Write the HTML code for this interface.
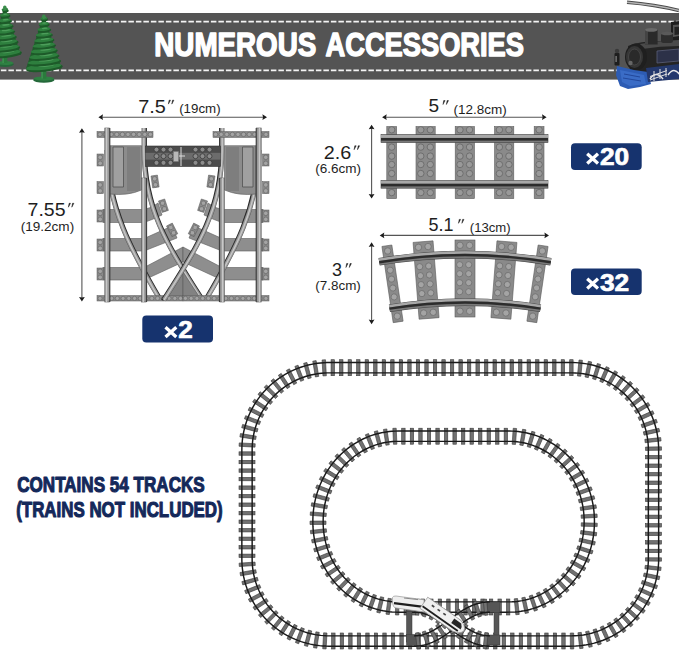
<!DOCTYPE html>
<html><head><meta charset="utf-8"><style>
html,body{margin:0;padding:0;background:#fff;width:679px;height:652px;overflow:hidden;font-family:"Liberation Sans",sans-serif;}
svg{display:block}
</style></head><body>
<svg width="679" height="652" viewBox="0 0 679 652" font-family="Liberation Sans, sans-serif"><rect width="679" height="652" fill="#fff"/>
<rect x="0" y="13" width="679" height="66.6" fill="#545454"/>
<line x1="0" y1="21.6" x2="679" y2="21.6" stroke="#f4f4f4" stroke-width="1.8" stroke-dasharray="5.5 2" stroke-dashoffset="-0.9"/>
<line x1="0" y1="70.3" x2="679" y2="70.3" stroke="#f4f4f4" stroke-width="1.8" stroke-dasharray="5.5 2" stroke-dashoffset="-0.9"/>
<text x="154.3" y="56.2" font-size="32.5" font-weight="bold" fill="#fff" text-anchor="start" textLength="162" lengthAdjust="spacingAndGlyphs" stroke="#fff" stroke-width="1.5" stroke-linejoin="round">NUMEROUS</text>
<text x="325.5" y="56.2" font-size="32.5" font-weight="bold" fill="#fff" text-anchor="start" textLength="198.5" lengthAdjust="spacingAndGlyphs" stroke="#fff" stroke-width="1.5" stroke-linejoin="round">ACCESSORIES</text>
<ellipse cx="4.8" cy="64.3" rx="9" ry="2.6" fill="#24683a"/><ellipse cx="4.8" cy="63" rx="8.549999999999999" ry="1.9500000000000002" fill="#2f8043"/><rect x="2.3" y="52" width="5" height="11" fill="#2a7a3c"/><rect x="2.3" y="52" width="1.6" height="11" fill="#3d9150"/><path d="M4.8,6 L20.805,55 L-11.204999999999998,55z" fill="#1f5e2b"/><ellipse cx="5.3" cy="54.4" rx="16.5" ry="3.6" fill="#1d5a29" transform="rotate(-6,4.8,53.0)"/><ellipse cx="4.8" cy="53.0" rx="15.8" ry="2.9" fill="#2e7f3e" transform="rotate(-6,4.8,53.0)"/><ellipse cx="7.3" cy="51.9" rx="7.4" ry="1.3" fill="#4c9d5a" transform="rotate(-6,4.8,53.0)"/><ellipse cx="5.3" cy="49.0" rx="14.8" ry="3.4" fill="#1d5a29" transform="rotate(-6,4.8,47.55555555555555)"/><ellipse cx="4.8" cy="47.6" rx="14.3" ry="2.7" fill="#2e7f3e" transform="rotate(-6,4.8,47.55555555555555)"/><ellipse cx="7.0" cy="46.5" rx="6.7" ry="1.2" fill="#4c9d5a" transform="rotate(-6,4.8,47.55555555555555)"/><ellipse cx="5.3" cy="43.5" rx="13.2" ry="3.2" fill="#1d5a29" transform="rotate(-6,4.8,42.111111111111114)"/><ellipse cx="4.8" cy="42.1" rx="12.7" ry="2.5" fill="#2e7f3e" transform="rotate(-6,4.8,42.111111111111114)"/><ellipse cx="6.8" cy="41.2" rx="5.9" ry="1.1" fill="#4c9d5a" transform="rotate(-6,4.8,42.111111111111114)"/><ellipse cx="5.3" cy="38.1" rx="11.5" ry="2.9" fill="#1d5a29" transform="rotate(-6,4.8,36.666666666666664)"/><ellipse cx="4.8" cy="36.7" rx="11.1" ry="2.3" fill="#2e7f3e" transform="rotate(-6,4.8,36.666666666666664)"/><ellipse cx="6.5" cy="35.8" rx="5.2" ry="1.0" fill="#4c9d5a" transform="rotate(-6,4.8,36.666666666666664)"/><ellipse cx="5.3" cy="32.6" rx="9.9" ry="2.7" fill="#1d5a29" transform="rotate(-6,4.8,31.22222222222223)"/><ellipse cx="4.8" cy="31.2" rx="9.5" ry="2.2" fill="#2e7f3e" transform="rotate(-6,4.8,31.22222222222223)"/><ellipse cx="6.3" cy="30.4" rx="4.5" ry="0.9" fill="#4c9d5a" transform="rotate(-6,4.8,31.22222222222223)"/><ellipse cx="5.3" cy="27.2" rx="8.2" ry="2.5" fill="#1d5a29" transform="rotate(-6,4.8,25.777777777777775)"/><ellipse cx="4.8" cy="25.8" rx="7.9" ry="2.0" fill="#2e7f3e" transform="rotate(-6,4.8,25.777777777777775)"/><ellipse cx="6.0" cy="25.0" rx="3.7" ry="0.9" fill="#4c9d5a" transform="rotate(-6,4.8,25.777777777777775)"/><ellipse cx="5.3" cy="21.7" rx="6.6" ry="2.3" fill="#1d5a29" transform="rotate(-6,4.8,20.333333333333332)"/><ellipse cx="4.8" cy="20.3" rx="6.3" ry="1.8" fill="#2e7f3e" transform="rotate(-6,4.8,20.333333333333332)"/><ellipse cx="5.8" cy="19.7" rx="3.0" ry="0.8" fill="#4c9d5a" transform="rotate(-6,4.8,20.333333333333332)"/><ellipse cx="5.3" cy="16.3" rx="5.0" ry="2.0" fill="#1d5a29" transform="rotate(-6,4.8,14.888888888888886)"/><ellipse cx="4.8" cy="14.9" rx="4.8" ry="1.6" fill="#2e7f3e" transform="rotate(-6,4.8,14.888888888888886)"/><ellipse cx="5.5" cy="14.3" rx="2.2" ry="0.7" fill="#4c9d5a" transform="rotate(-6,4.8,14.888888888888886)"/><ellipse cx="5.3" cy="10.8" rx="3.3" ry="1.8" fill="#1d5a29" transform="rotate(-6,4.8,9.444444444444443)"/><ellipse cx="4.8" cy="9.4" rx="3.2" ry="1.5" fill="#2e7f3e" transform="rotate(-6,4.8,9.444444444444443)"/><ellipse cx="5.3" cy="8.9" rx="1.5" ry="0.6" fill="#4c9d5a" transform="rotate(-6,4.8,9.444444444444443)"/><ellipse cx="4.8" cy="7.5" rx="1.8" ry="2" fill="#3a8c4a"/>
<ellipse cx="43.8" cy="80.0" rx="10.7" ry="2.8" fill="#24683a"/><ellipse cx="43.8" cy="78.6" rx="10.165" ry="2.0999999999999996" fill="#2f8043"/><rect x="41.3" y="65.8" width="5" height="12.8" fill="#2a7a3c"/><rect x="41.3" y="65.8" width="1.6" height="12.8" fill="#3d9150"/><path d="M43.8,14.9 L61.647999999999996,68.8 L25.951999999999998,68.8z" fill="#1f5e2b"/><ellipse cx="44.3" cy="68.2" rx="18.4" ry="3.6" fill="#1d5a29" transform="rotate(-6,43.8,66.8)"/><ellipse cx="43.8" cy="66.8" rx="17.7" ry="2.9" fill="#2e7f3e" transform="rotate(-6,43.8,66.8)"/><ellipse cx="46.6" cy="65.7" rx="8.3" ry="1.3" fill="#4c9d5a" transform="rotate(-6,43.8,66.8)"/><ellipse cx="44.3" cy="62.8" rx="16.7" ry="3.4" fill="#1d5a29" transform="rotate(-6,43.8,61.41)"/><ellipse cx="43.8" cy="61.4" rx="16.1" ry="2.7" fill="#2e7f3e" transform="rotate(-6,43.8,61.41)"/><ellipse cx="46.3" cy="60.4" rx="7.5" ry="1.2" fill="#4c9d5a" transform="rotate(-6,43.8,61.41)"/><ellipse cx="44.3" cy="57.4" rx="15.1" ry="3.2" fill="#1d5a29" transform="rotate(-6,43.8,56.02)"/><ellipse cx="43.8" cy="56.0" rx="14.5" ry="2.6" fill="#2e7f3e" transform="rotate(-6,43.8,56.02)"/><ellipse cx="46.1" cy="55.1" rx="6.8" ry="1.1" fill="#4c9d5a" transform="rotate(-6,43.8,56.02)"/><ellipse cx="44.3" cy="52.0" rx="13.4" ry="3.0" fill="#1d5a29" transform="rotate(-6,43.8,50.629999999999995)"/><ellipse cx="43.8" cy="50.6" rx="12.9" ry="2.4" fill="#2e7f3e" transform="rotate(-6,43.8,50.629999999999995)"/><ellipse cx="45.8" cy="49.7" rx="6.0" ry="1.0" fill="#4c9d5a" transform="rotate(-6,43.8,50.629999999999995)"/><ellipse cx="44.3" cy="46.6" rx="11.8" ry="2.8" fill="#1d5a29" transform="rotate(-6,43.8,45.239999999999995)"/><ellipse cx="43.8" cy="45.2" rx="11.3" ry="2.2" fill="#2e7f3e" transform="rotate(-6,43.8,45.239999999999995)"/><ellipse cx="45.6" cy="44.4" rx="5.3" ry="1.0" fill="#4c9d5a" transform="rotate(-6,43.8,45.239999999999995)"/><ellipse cx="44.3" cy="41.2" rx="10.1" ry="2.6" fill="#1d5a29" transform="rotate(-6,43.8,39.85)"/><ellipse cx="43.8" cy="39.9" rx="9.7" ry="2.1" fill="#2e7f3e" transform="rotate(-6,43.8,39.85)"/><ellipse cx="45.3" cy="39.1" rx="4.6" ry="0.9" fill="#4c9d5a" transform="rotate(-6,43.8,39.85)"/><ellipse cx="44.3" cy="35.9" rx="8.5" ry="2.4" fill="#1d5a29" transform="rotate(-6,43.8,34.46)"/><ellipse cx="43.8" cy="34.5" rx="8.1" ry="1.9" fill="#2e7f3e" transform="rotate(-6,43.8,34.46)"/><ellipse cx="45.1" cy="33.7" rx="3.8" ry="0.8" fill="#4c9d5a" transform="rotate(-6,43.8,34.46)"/><ellipse cx="44.3" cy="30.5" rx="6.8" ry="2.2" fill="#1d5a29" transform="rotate(-6,43.8,29.07)"/><ellipse cx="43.8" cy="29.1" rx="6.5" ry="1.8" fill="#2e7f3e" transform="rotate(-6,43.8,29.07)"/><ellipse cx="44.8" cy="28.4" rx="3.1" ry="0.8" fill="#4c9d5a" transform="rotate(-6,43.8,29.07)"/><ellipse cx="44.3" cy="25.1" rx="5.2" ry="2.0" fill="#1d5a29" transform="rotate(-6,43.8,23.68)"/><ellipse cx="43.8" cy="23.7" rx="4.9" ry="1.6" fill="#2e7f3e" transform="rotate(-6,43.8,23.68)"/><ellipse cx="44.6" cy="23.1" rx="2.3" ry="0.7" fill="#4c9d5a" transform="rotate(-6,43.8,23.68)"/><ellipse cx="44.3" cy="19.7" rx="3.5" ry="1.8" fill="#1d5a29" transform="rotate(-6,43.8,18.29)"/><ellipse cx="43.8" cy="18.3" rx="3.4" ry="1.4" fill="#2e7f3e" transform="rotate(-6,43.8,18.29)"/><ellipse cx="44.3" cy="17.8" rx="1.6" ry="0.6" fill="#4c9d5a" transform="rotate(-6,43.8,18.29)"/><ellipse cx="43.8" cy="16.4" rx="1.8" ry="2" fill="#3a8c4a"/>
<path d="M627,2.2 Q655,4.5 679,10.5" fill="none" stroke="#4a4a4a" stroke-width="3.4"/><path d="M627,2.2 Q655,4.5 679,10.5" fill="none" stroke="#b4b4b4" stroke-width="1.6"/><path d="M671,22 L679,21 L679,62 L671,62z" fill="#1e1e1e"/><path d="M673,25 L679,24.5 L679,36 L673,37z" fill="#555"/><path d="M674.5,27 L679,26.7 L679,34.5 L674.5,35z" fill="#222"/><path d="M628,46 Q640,41 660,41 L679,40 L679,70 L650,76 L630,72z" fill="#242424"/><path d="M640,44 Q655,41 679,40 L679,46 Q660,46 642,49z" fill="#4a4a4a"/><path d="M657,51 L679,49 L679,61 L657,63z" fill="#2c3148" stroke="#5a6078" stroke-width="0.8"/><rect x="661" y="33" width="12" height="10" rx="2.5" fill="#2e2e2e"/><ellipse cx="667" cy="33.5" rx="6" ry="1.8" fill="#5a5a5a"/><rect x="645" y="29.5" width="12.6" height="15" fill="#2a2a2a"/><rect x="645" y="29.5" width="3" height="15" fill="#444"/><ellipse cx="651.3" cy="29.8" rx="6.3" ry="1.9" fill="#6a6a6a"/><ellipse cx="636" cy="57" rx="11" ry="13.5" fill="#1f1f1f"/><ellipse cx="634.5" cy="57" rx="8.5" ry="11" fill="#363636"/><ellipse cx="634.5" cy="57" rx="6" ry="8" fill="#2a2a2a" stroke="#4a4a4a" stroke-width="0.8"/><circle cx="630.5" cy="63" r="2.2" fill="#666"/><path d="M617,66 L634,70 L648,72 L651,84 L640,87 L628,89 L620,86 L616,75z" fill="#2d5cb4"/><path d="M620,70 L644,75 L646,84 L630,86 L622,82z" fill="#3a6cc6"/><path d="M624,74 L640,77 M623,78 L641,81" stroke="#22479a" stroke-width="1"/><path d="M646,68 L679,64 L679,79 L648,82z" fill="#24386c"/><path d="M650,79 q6,-9 13,0" fill="none" stroke="#e8e8e8" stroke-width="1.5"/><path d="M668,75 q6,-9 12,0" fill="none" stroke="#e8e8e8" stroke-width="1.5"/><path d="M650,80 L667,74 M650,76.5 L667,70.5 M654,81 V71 M660,79 V69 M666,77 V68" stroke="#e0e0e0" stroke-width="1" fill="none"/><rect x="614.5" y="53" width="5" height="12.5" rx="1" fill="#1e1e1e"/><circle cx="617" cy="51" r="2.2" fill="#3a3a3a"/><rect x="615.5" y="56" width="1.2" height="6" fill="#888"/>
<line x1="101.4" y1="117.2" x2="264" y2="117.2" stroke="#555" stroke-width="1.1"/>
<path d="M98.4,117.2 l4.6,-2.9 l-0.6,2.9 l0.6,2.9z M267,117.2 l-4.6,-2.9 l0.6,2.9 l-0.6,2.9z" fill="#1c1c1c"/>
<line x1="81.9" y1="131.2" x2="81.9" y2="298.5" stroke="#555" stroke-width="1.1"/>
<path d="M81.9,128.2 l-2.9,4.6 l2.9,-0.6 l2.9,0.6z M81.9,301.5 l-2.9,-4.6 l2.9,0.6 l2.9,-0.6z" fill="#1c1c1c"/>
<line x1="385.1" y1="117.2" x2="543.6" y2="117.2" stroke="#555" stroke-width="1.1"/>
<path d="M382.1,117.2 l4.6,-2.9 l-0.6,2.9 l0.6,2.9z M546.6,117.2 l-4.6,-2.9 l0.6,2.9 l-0.6,2.9z" fill="#1c1c1c"/>
<line x1="371.6" y1="127.7" x2="371.6" y2="195.5" stroke="#555" stroke-width="1.1"/>
<path d="M371.6,124.7 l-2.9,4.6 l2.9,-0.6 l2.9,0.6z M371.6,198.5 l-2.9,-4.6 l2.9,0.6 l2.9,-0.6z" fill="#1c1c1c"/>
<line x1="382.7" y1="235.4" x2="546" y2="235.4" stroke="#555" stroke-width="1.1"/>
<path d="M379.7,235.4 l4.6,-2.9 l-0.6,2.9 l0.6,2.9z M549,235.4 l-4.6,-2.9 l0.6,2.9 l-0.6,2.9z" fill="#1c1c1c"/>
<line x1="371.6" y1="245.3" x2="371.6" y2="321.2" stroke="#555" stroke-width="1.1"/>
<path d="M371.6,242.3 l-2.9,4.6 l2.9,-0.6 l2.9,0.6z M371.6,324.2 l-2.9,-4.6 l2.9,0.6 l2.9,-0.6z" fill="#1c1c1c"/>
<g><rect x="103" y="209.5" width="41" height="13" fill="#8e8e8e" stroke="#5c5c5c" stroke-width="0.6"/><rect x="103" y="238.5" width="41" height="12.5" fill="#8e8e8e" stroke="#5c5c5c" stroke-width="0.6"/><rect x="103" y="267.5" width="41" height="12.5" fill="#8e8e8e" stroke="#5c5c5c" stroke-width="0.6"/><path d="M144,209.5 L152,207 L158,203 L162,215 L152,219.5 L144,222.5z" fill="#8e8e8e" stroke="#5c5c5c" stroke-width="0.6"/><path d="M144,238.5 L172,226 L177,238 L144,251z" fill="#8e8e8e" stroke="#5c5c5c" stroke-width="0.6"/><path d="M144,267.5 L183,247 L183,262 L144,280z" fill="#8e8e8e" stroke="#5c5c5c" stroke-width="0.6"/><path d="M183,272 L166,298 L183,298z" fill="#828282" stroke="#5c5c5c" stroke-width="0.6"/><path d="M106.8,150 C106.8,206 131.1,251.1 160,300" fill="none" stroke="#262626" stroke-width="2.4" transform="translate(1.9,0)"/><path d="M106.8,150 C106.8,206 131.1,251.1 160,300" fill="none" stroke="#555" stroke-width="4.4"/><path d="M106.8,150 C106.8,206 131.1,251.1 160,300" fill="none" stroke="#9a9a9a" stroke-width="3.6"/><path d="M106.8,150 C106.8,206 131.1,251.1 160,300" fill="none" stroke="#c8c8c8" stroke-width="1.3"/><path d="M143.8,128 L143.8,150 C143.8,211.3 169.9,249.1 202,300" fill="none" stroke="#262626" stroke-width="2.4" transform="translate(1.9,0)"/><path d="M143.8,128 L143.8,150 C143.8,211.3 169.9,249.1 202,300" fill="none" stroke="#555" stroke-width="4.4"/><path d="M143.8,128 L143.8,150 C143.8,211.3 169.9,249.1 202,300" fill="none" stroke="#9a9a9a" stroke-width="3.6"/><path d="M143.8,128 L143.8,150 C143.8,211.3 169.9,249.1 202,300" fill="none" stroke="#c8c8c8" stroke-width="1.3"/><path d="M110,145.7 H141.5 V190 Q128,196 110,194z" fill="#8c8c8c" stroke="#5a5a5a" stroke-width="0.6"/><rect x="127" y="147" width="13" height="44" fill="#7e7e7e"/><path d="M113,147 h10.5 l0,40 h-10.5z" fill="#a0a0a0" stroke="#505050" stroke-width="0.8"/><rect x="97" y="154" width="6.5" height="12" fill="#8a8a8a" stroke="#5a5a5a" stroke-width="0.5"/><g fill="#a4a4a4" stroke="#6a6a6a" stroke-width="0.7"><circle cx="100.20" cy="157.30" r="2.3"/><circle cx="100.20" cy="163.30" r="2.3"/></g><rect x="97" y="181.6" width="6.5" height="12" fill="#8a8a8a" stroke="#5a5a5a" stroke-width="0.5"/><g fill="#a4a4a4" stroke="#6a6a6a" stroke-width="0.7"><circle cx="100.20" cy="184.90" r="2.3"/><circle cx="100.20" cy="190.90" r="2.3"/></g><rect x="97" y="210" width="6.5" height="12" fill="#8a8a8a" stroke="#5a5a5a" stroke-width="0.5"/><g fill="#a4a4a4" stroke="#6a6a6a" stroke-width="0.7"><circle cx="100.20" cy="213.30" r="2.3"/><circle cx="100.20" cy="219.30" r="2.3"/></g><rect x="97" y="239" width="6.5" height="12" fill="#8a8a8a" stroke="#5a5a5a" stroke-width="0.5"/><g fill="#a4a4a4" stroke="#6a6a6a" stroke-width="0.7"><circle cx="100.20" cy="242.30" r="2.3"/><circle cx="100.20" cy="248.30" r="2.3"/></g><rect x="97" y="268" width="6.5" height="12" fill="#8a8a8a" stroke="#5a5a5a" stroke-width="0.5"/><g fill="#a4a4a4" stroke="#6a6a6a" stroke-width="0.7"><circle cx="100.20" cy="271.30" r="2.3"/><circle cx="100.20" cy="277.30" r="2.3"/></g><rect x="97" y="131.5" width="56" height="6" fill="#8a8a8a" stroke="#5a5a5a" stroke-width="0.5"/><g fill="#a4a4a4" stroke="#6a6a6a" stroke-width="0.7"><circle cx="100.00" cy="134.40" r="2.2"/><circle cx="105.60" cy="134.40" r="2.2"/><circle cx="111.20" cy="134.40" r="2.2"/><circle cx="116.80" cy="134.40" r="2.2"/><circle cx="122.40" cy="134.40" r="2.2"/><circle cx="128.00" cy="134.40" r="2.2"/><circle cx="133.60" cy="134.40" r="2.2"/><circle cx="139.20" cy="134.40" r="2.2"/><circle cx="144.80" cy="134.40" r="2.2"/><circle cx="150.40" cy="134.40" r="2.2"/></g><rect x="97" y="295.5" width="86" height="5.5" fill="#8a8a8a" stroke="#5a5a5a" stroke-width="0.5"/><g fill="#a4a4a4" stroke="#6a6a6a" stroke-width="0.7"><circle cx="100.08" cy="298.38" r="2.1"/><circle cx="105.83" cy="298.38" r="2.1"/><circle cx="111.58" cy="298.38" r="2.1"/><circle cx="117.33" cy="298.38" r="2.1"/><circle cx="123.08" cy="298.38" r="2.1"/><circle cx="128.82" cy="298.38" r="2.1"/><circle cx="134.57" cy="298.38" r="2.1"/><circle cx="140.32" cy="298.38" r="2.1"/><circle cx="146.07" cy="298.38" r="2.1"/><circle cx="151.82" cy="298.38" r="2.1"/><circle cx="157.57" cy="298.38" r="2.1"/><circle cx="163.32" cy="298.38" r="2.1"/><circle cx="169.07" cy="298.38" r="2.1"/><circle cx="174.82" cy="298.38" r="2.1"/><circle cx="180.57" cy="298.38" r="2.1"/></g><rect x="108.7" y="128" width="1.6" height="174" fill="#262626"/><rect x="104.8" y="128" width="4.5" height="174" fill="#9a9a9a" stroke="#555" stroke-width="0.6"/><rect x="105.8" y="128" width="1.5" height="174" fill="#c8c8c8"/><rect x="145.5" y="178" width="1.6" height="124" fill="#262626"/><rect x="141.6" y="178" width="4.5" height="124" fill="#9a9a9a" stroke="#555" stroke-width="0.6"/><rect x="142.6" y="178" width="1.5" height="124" fill="#c8c8c8"/><g transform="rotate(-8,151,176)"><rect x="151" y="176" width="6.5" height="12" fill="#8a8a8a" stroke="#5a5a5a" stroke-width="0.5"/><g fill="#a4a4a4" stroke="#6a6a6a" stroke-width="0.7"><circle cx="154.20" cy="179.30" r="2.3"/><circle cx="154.20" cy="185.30" r="2.3"/></g></g><g transform="rotate(-18,158.5,201)"><rect x="158.5" y="201" width="6.5" height="12" fill="#8a8a8a" stroke="#5a5a5a" stroke-width="0.5"/><g fill="#a4a4a4" stroke="#6a6a6a" stroke-width="0.7"><circle cx="161.70" cy="204.30" r="2.3"/><circle cx="161.70" cy="210.30" r="2.3"/></g></g><g transform="rotate(-27,166.5,226)"><rect x="166.5" y="226" width="6.5" height="12" fill="#8a8a8a" stroke="#5a5a5a" stroke-width="0.5"/><g fill="#a4a4a4" stroke="#6a6a6a" stroke-width="0.7"><circle cx="169.70" cy="229.30" r="2.3"/><circle cx="169.70" cy="235.30" r="2.3"/></g></g></g>
<g transform="translate(366,0) scale(-1,1)"><rect x="103" y="209.5" width="41" height="13" fill="#8e8e8e" stroke="#5c5c5c" stroke-width="0.6"/><rect x="103" y="238.5" width="41" height="12.5" fill="#8e8e8e" stroke="#5c5c5c" stroke-width="0.6"/><rect x="103" y="267.5" width="41" height="12.5" fill="#8e8e8e" stroke="#5c5c5c" stroke-width="0.6"/><path d="M144,209.5 L152,207 L158,203 L162,215 L152,219.5 L144,222.5z" fill="#8e8e8e" stroke="#5c5c5c" stroke-width="0.6"/><path d="M144,238.5 L172,226 L177,238 L144,251z" fill="#8e8e8e" stroke="#5c5c5c" stroke-width="0.6"/><path d="M144,267.5 L183,247 L183,262 L144,280z" fill="#8e8e8e" stroke="#5c5c5c" stroke-width="0.6"/><path d="M183,272 L166,298 L183,298z" fill="#828282" stroke="#5c5c5c" stroke-width="0.6"/><path d="M106.8,150 C106.8,206 131.1,251.1 160,300" fill="none" stroke="#262626" stroke-width="2.4" transform="translate(1.9,0)"/><path d="M106.8,150 C106.8,206 131.1,251.1 160,300" fill="none" stroke="#555" stroke-width="4.4"/><path d="M106.8,150 C106.8,206 131.1,251.1 160,300" fill="none" stroke="#9a9a9a" stroke-width="3.6"/><path d="M106.8,150 C106.8,206 131.1,251.1 160,300" fill="none" stroke="#c8c8c8" stroke-width="1.3"/><path d="M143.8,128 L143.8,150 C143.8,211.3 169.9,249.1 202,300" fill="none" stroke="#262626" stroke-width="2.4" transform="translate(1.9,0)"/><path d="M143.8,128 L143.8,150 C143.8,211.3 169.9,249.1 202,300" fill="none" stroke="#555" stroke-width="4.4"/><path d="M143.8,128 L143.8,150 C143.8,211.3 169.9,249.1 202,300" fill="none" stroke="#9a9a9a" stroke-width="3.6"/><path d="M143.8,128 L143.8,150 C143.8,211.3 169.9,249.1 202,300" fill="none" stroke="#c8c8c8" stroke-width="1.3"/><path d="M110,145.7 H141.5 V190 Q128,196 110,194z" fill="#8c8c8c" stroke="#5a5a5a" stroke-width="0.6"/><rect x="127" y="147" width="13" height="44" fill="#7e7e7e"/><path d="M113,147 h10.5 l0,40 h-10.5z" fill="#a0a0a0" stroke="#505050" stroke-width="0.8"/><rect x="97" y="154" width="6.5" height="12" fill="#8a8a8a" stroke="#5a5a5a" stroke-width="0.5"/><g fill="#a4a4a4" stroke="#6a6a6a" stroke-width="0.7"><circle cx="100.20" cy="157.30" r="2.3"/><circle cx="100.20" cy="163.30" r="2.3"/></g><rect x="97" y="181.6" width="6.5" height="12" fill="#8a8a8a" stroke="#5a5a5a" stroke-width="0.5"/><g fill="#a4a4a4" stroke="#6a6a6a" stroke-width="0.7"><circle cx="100.20" cy="184.90" r="2.3"/><circle cx="100.20" cy="190.90" r="2.3"/></g><rect x="97" y="210" width="6.5" height="12" fill="#8a8a8a" stroke="#5a5a5a" stroke-width="0.5"/><g fill="#a4a4a4" stroke="#6a6a6a" stroke-width="0.7"><circle cx="100.20" cy="213.30" r="2.3"/><circle cx="100.20" cy="219.30" r="2.3"/></g><rect x="97" y="239" width="6.5" height="12" fill="#8a8a8a" stroke="#5a5a5a" stroke-width="0.5"/><g fill="#a4a4a4" stroke="#6a6a6a" stroke-width="0.7"><circle cx="100.20" cy="242.30" r="2.3"/><circle cx="100.20" cy="248.30" r="2.3"/></g><rect x="97" y="268" width="6.5" height="12" fill="#8a8a8a" stroke="#5a5a5a" stroke-width="0.5"/><g fill="#a4a4a4" stroke="#6a6a6a" stroke-width="0.7"><circle cx="100.20" cy="271.30" r="2.3"/><circle cx="100.20" cy="277.30" r="2.3"/></g><rect x="97" y="131.5" width="56" height="6" fill="#8a8a8a" stroke="#5a5a5a" stroke-width="0.5"/><g fill="#a4a4a4" stroke="#6a6a6a" stroke-width="0.7"><circle cx="100.00" cy="134.40" r="2.2"/><circle cx="105.60" cy="134.40" r="2.2"/><circle cx="111.20" cy="134.40" r="2.2"/><circle cx="116.80" cy="134.40" r="2.2"/><circle cx="122.40" cy="134.40" r="2.2"/><circle cx="128.00" cy="134.40" r="2.2"/><circle cx="133.60" cy="134.40" r="2.2"/><circle cx="139.20" cy="134.40" r="2.2"/><circle cx="144.80" cy="134.40" r="2.2"/><circle cx="150.40" cy="134.40" r="2.2"/></g><rect x="97" y="295.5" width="86" height="5.5" fill="#8a8a8a" stroke="#5a5a5a" stroke-width="0.5"/><g fill="#a4a4a4" stroke="#6a6a6a" stroke-width="0.7"><circle cx="100.08" cy="298.38" r="2.1"/><circle cx="105.83" cy="298.38" r="2.1"/><circle cx="111.58" cy="298.38" r="2.1"/><circle cx="117.33" cy="298.38" r="2.1"/><circle cx="123.08" cy="298.38" r="2.1"/><circle cx="128.82" cy="298.38" r="2.1"/><circle cx="134.57" cy="298.38" r="2.1"/><circle cx="140.32" cy="298.38" r="2.1"/><circle cx="146.07" cy="298.38" r="2.1"/><circle cx="151.82" cy="298.38" r="2.1"/><circle cx="157.57" cy="298.38" r="2.1"/><circle cx="163.32" cy="298.38" r="2.1"/><circle cx="169.07" cy="298.38" r="2.1"/><circle cx="174.82" cy="298.38" r="2.1"/><circle cx="180.57" cy="298.38" r="2.1"/></g><rect x="108.7" y="128" width="1.6" height="174" fill="#262626"/><rect x="104.8" y="128" width="4.5" height="174" fill="#9a9a9a" stroke="#555" stroke-width="0.6"/><rect x="105.8" y="128" width="1.5" height="174" fill="#c8c8c8"/><rect x="145.5" y="178" width="1.6" height="124" fill="#262626"/><rect x="141.6" y="178" width="4.5" height="124" fill="#9a9a9a" stroke="#555" stroke-width="0.6"/><rect x="142.6" y="178" width="1.5" height="124" fill="#c8c8c8"/><g transform="rotate(-8,151,176)"><rect x="151" y="176" width="6.5" height="12" fill="#8a8a8a" stroke="#5a5a5a" stroke-width="0.5"/><g fill="#a4a4a4" stroke="#6a6a6a" stroke-width="0.7"><circle cx="154.20" cy="179.30" r="2.3"/><circle cx="154.20" cy="185.30" r="2.3"/></g></g><g transform="rotate(-18,158.5,201)"><rect x="158.5" y="201" width="6.5" height="12" fill="#8a8a8a" stroke="#5a5a5a" stroke-width="0.5"/><g fill="#a4a4a4" stroke="#6a6a6a" stroke-width="0.7"><circle cx="161.70" cy="204.30" r="2.3"/><circle cx="161.70" cy="210.30" r="2.3"/></g></g><g transform="rotate(-27,166.5,226)"><rect x="166.5" y="226" width="6.5" height="12" fill="#8a8a8a" stroke="#5a5a5a" stroke-width="0.5"/><g fill="#a4a4a4" stroke="#6a6a6a" stroke-width="0.7"><circle cx="169.70" cy="229.30" r="2.3"/><circle cx="169.70" cy="235.30" r="2.3"/></g></g></g>
<rect x="145.5" y="146" width="75" height="20.5" fill="#4c4c4c" stroke="#333" stroke-width="0.6"/>
<rect x="145.5" y="152.8" width="75" height="6.8" fill="#6c6c6c"/>
<g fill="#8c8c8c" stroke="#3a3a3a" stroke-width="0.8"><circle cx="156.5" cy="149.6" r="2.5"/><circle cx="156.5" cy="156.2" r="2.5"/><circle cx="156.5" cy="162.8" r="2.5"/><circle cx="163.5" cy="149.6" r="2.5"/><circle cx="163.5" cy="156.2" r="2.5"/><circle cx="163.5" cy="162.8" r="2.5"/><circle cx="170.5" cy="149.6" r="2.5"/><circle cx="170.5" cy="156.2" r="2.5"/><circle cx="170.5" cy="162.8" r="2.5"/><circle cx="195.5" cy="149.6" r="2.5"/><circle cx="195.5" cy="156.2" r="2.5"/><circle cx="195.5" cy="162.8" r="2.5"/><circle cx="202.5" cy="149.6" r="2.5"/><circle cx="202.5" cy="156.2" r="2.5"/><circle cx="202.5" cy="162.8" r="2.5"/><circle cx="209.5" cy="149.6" r="2.5"/><circle cx="209.5" cy="156.2" r="2.5"/><circle cx="209.5" cy="162.8" r="2.5"/></g>
<rect x="173.5" y="151.5" width="5" height="10" fill="#b8b8b8" stroke="#777" stroke-width="0.5"/>
<path d="M181,147 v19 M179,156 h6" stroke="#ddd" stroke-width="1"/>
<rect x="386.8" y="126.6" width="9.8" height="72" fill="#8a8a8a" stroke="#5e5e5e" stroke-width="0.6"/>
<g fill="#999" stroke="#666" stroke-width="0.8"><circle cx="391.70" cy="129.80" r="3.2"/><circle cx="391.70" cy="147.10" r="3.2"/><circle cx="391.70" cy="156.10" r="3.2"/><circle cx="391.70" cy="164.50" r="3.2"/><circle cx="391.70" cy="173.50" r="3.2"/><circle cx="391.70" cy="192.60" r="3.2"/></g>
<rect x="416" y="126.6" width="19.2" height="72" fill="#8a8a8a" stroke="#5e5e5e" stroke-width="0.6"/>
<g fill="#999" stroke="#666" stroke-width="0.8"><circle cx="420.80" cy="129.80" r="3.2"/><circle cx="420.80" cy="147.10" r="3.2"/><circle cx="420.80" cy="156.10" r="3.2"/><circle cx="420.80" cy="164.50" r="3.2"/><circle cx="420.80" cy="173.50" r="3.2"/><circle cx="420.80" cy="192.60" r="3.2"/><circle cx="430.30" cy="129.80" r="3.2"/><circle cx="430.30" cy="147.10" r="3.2"/><circle cx="430.30" cy="156.10" r="3.2"/><circle cx="430.30" cy="164.50" r="3.2"/><circle cx="430.30" cy="173.50" r="3.2"/><circle cx="430.30" cy="192.60" r="3.2"/></g>
<rect x="455.2" y="126.6" width="19.2" height="72" fill="#8a8a8a" stroke="#5e5e5e" stroke-width="0.6"/>
<g fill="#999" stroke="#666" stroke-width="0.8"><circle cx="460.00" cy="129.80" r="3.2"/><circle cx="460.00" cy="147.10" r="3.2"/><circle cx="460.00" cy="156.10" r="3.2"/><circle cx="460.00" cy="164.50" r="3.2"/><circle cx="460.00" cy="173.50" r="3.2"/><circle cx="460.00" cy="192.60" r="3.2"/><circle cx="469.50" cy="129.80" r="3.2"/><circle cx="469.50" cy="147.10" r="3.2"/><circle cx="469.50" cy="156.10" r="3.2"/><circle cx="469.50" cy="164.50" r="3.2"/><circle cx="469.50" cy="173.50" r="3.2"/><circle cx="469.50" cy="192.60" r="3.2"/></g>
<rect x="494.6" y="126.6" width="19.2" height="72" fill="#8a8a8a" stroke="#5e5e5e" stroke-width="0.6"/>
<g fill="#999" stroke="#666" stroke-width="0.8"><circle cx="499.40" cy="129.80" r="3.2"/><circle cx="499.40" cy="147.10" r="3.2"/><circle cx="499.40" cy="156.10" r="3.2"/><circle cx="499.40" cy="164.50" r="3.2"/><circle cx="499.40" cy="173.50" r="3.2"/><circle cx="499.40" cy="192.60" r="3.2"/><circle cx="508.90" cy="129.80" r="3.2"/><circle cx="508.90" cy="147.10" r="3.2"/><circle cx="508.90" cy="156.10" r="3.2"/><circle cx="508.90" cy="164.50" r="3.2"/><circle cx="508.90" cy="173.50" r="3.2"/><circle cx="508.90" cy="192.60" r="3.2"/></g>
<rect x="534.2" y="126.6" width="9.8" height="72" fill="#8a8a8a" stroke="#5e5e5e" stroke-width="0.6"/>
<g fill="#999" stroke="#666" stroke-width="0.8"><circle cx="539.10" cy="129.80" r="3.2"/><circle cx="539.10" cy="147.10" r="3.2"/><circle cx="539.10" cy="156.10" r="3.2"/><circle cx="539.10" cy="164.50" r="3.2"/><circle cx="539.10" cy="173.50" r="3.2"/><circle cx="539.10" cy="192.60" r="3.2"/></g>
<rect x="381" y="134.6" width="167" height="8" fill="#7a7a7a" stroke="#444" stroke-width="0.6"/>
<rect x="381" y="135.0" width="167" height="2.8" fill="#a8a8a8"/>
<rect x="381" y="138.0" width="167" height="2.6" fill="#2c2c2c"/>
<rect x="381" y="180.4" width="167" height="7.8" fill="#7a7a7a" stroke="#444" stroke-width="0.6"/>
<rect x="381" y="180.8" width="167" height="2.8" fill="#a8a8a8"/>
<rect x="381" y="183.8" width="167" height="2.6" fill="#2c2c2c"/>
<g transform="rotate(-8.4,465,774.7)"><rect x="460.0" y="240.0" width="10" height="77.00000000000006" fill="#8a8a8a" stroke="#5a5a5a" stroke-width="0.6"/><g fill="#a4a4a4" stroke="#6a6a6a" stroke-width="0.7"><circle cx="465.00" cy="245.30" r="3.2"/></g><g fill="#a4a4a4" stroke="#6a6a6a" stroke-width="0.7"><circle cx="464.70" cy="264.70" r="3.1"/><circle cx="464.70" cy="273.70" r="3.1"/><circle cx="464.70" cy="282.70" r="3.1"/><circle cx="464.70" cy="291.70" r="3.1"/></g><g fill="#a4a4a4" stroke="#6a6a6a" stroke-width="0.7"><circle cx="465.00" cy="311.20" r="3.2"/></g></g>
<g transform="rotate(-4.5,465,774.7)"><rect x="455.0" y="240.0" width="20" height="77.00000000000006" fill="#8a8a8a" stroke="#5a5a5a" stroke-width="0.6"/><g fill="#a4a4a4" stroke="#6a6a6a" stroke-width="0.7"><circle cx="460.00" cy="245.30" r="3.2"/><circle cx="469.60" cy="245.30" r="3.2"/></g><g fill="#a4a4a4" stroke="#6a6a6a" stroke-width="0.7"><circle cx="459.70" cy="264.70" r="3.1"/><circle cx="459.70" cy="273.70" r="3.1"/><circle cx="459.70" cy="282.70" r="3.1"/><circle cx="459.70" cy="291.70" r="3.1"/><circle cx="468.70" cy="264.70" r="3.1"/><circle cx="468.70" cy="273.70" r="3.1"/><circle cx="468.70" cy="282.70" r="3.1"/><circle cx="468.70" cy="291.70" r="3.1"/></g><g fill="#a4a4a4" stroke="#6a6a6a" stroke-width="0.7"><circle cx="460.00" cy="311.20" r="3.2"/><circle cx="469.60" cy="311.20" r="3.2"/></g></g>
<g transform="rotate(0,465,774.7)"><rect x="455.0" y="240.0" width="20" height="77.00000000000006" fill="#8a8a8a" stroke="#5a5a5a" stroke-width="0.6"/><g fill="#a4a4a4" stroke="#6a6a6a" stroke-width="0.7"><circle cx="460.00" cy="245.30" r="3.2"/><circle cx="469.60" cy="245.30" r="3.2"/></g><g fill="#a4a4a4" stroke="#6a6a6a" stroke-width="0.7"><circle cx="459.70" cy="264.70" r="3.1"/><circle cx="459.70" cy="273.70" r="3.1"/><circle cx="459.70" cy="282.70" r="3.1"/><circle cx="459.70" cy="291.70" r="3.1"/><circle cx="468.70" cy="264.70" r="3.1"/><circle cx="468.70" cy="273.70" r="3.1"/><circle cx="468.70" cy="282.70" r="3.1"/><circle cx="468.70" cy="291.70" r="3.1"/></g><g fill="#a4a4a4" stroke="#6a6a6a" stroke-width="0.7"><circle cx="460.00" cy="311.20" r="3.2"/><circle cx="469.60" cy="311.20" r="3.2"/></g></g>
<g transform="rotate(4.5,465,774.7)"><rect x="455.0" y="240.0" width="20" height="77.00000000000006" fill="#8a8a8a" stroke="#5a5a5a" stroke-width="0.6"/><g fill="#a4a4a4" stroke="#6a6a6a" stroke-width="0.7"><circle cx="460.00" cy="245.30" r="3.2"/><circle cx="469.60" cy="245.30" r="3.2"/></g><g fill="#a4a4a4" stroke="#6a6a6a" stroke-width="0.7"><circle cx="459.70" cy="264.70" r="3.1"/><circle cx="459.70" cy="273.70" r="3.1"/><circle cx="459.70" cy="282.70" r="3.1"/><circle cx="459.70" cy="291.70" r="3.1"/><circle cx="468.70" cy="264.70" r="3.1"/><circle cx="468.70" cy="273.70" r="3.1"/><circle cx="468.70" cy="282.70" r="3.1"/><circle cx="468.70" cy="291.70" r="3.1"/></g><g fill="#a4a4a4" stroke="#6a6a6a" stroke-width="0.7"><circle cx="460.00" cy="311.20" r="3.2"/><circle cx="469.60" cy="311.20" r="3.2"/></g></g>
<g transform="rotate(8.4,465,774.7)"><rect x="460.0" y="240.0" width="10" height="77.00000000000006" fill="#8a8a8a" stroke="#5a5a5a" stroke-width="0.6"/><g fill="#a4a4a4" stroke="#6a6a6a" stroke-width="0.7"><circle cx="465.00" cy="245.30" r="3.2"/></g><g fill="#a4a4a4" stroke="#6a6a6a" stroke-width="0.7"><circle cx="464.70" cy="264.70" r="3.1"/><circle cx="464.70" cy="273.70" r="3.1"/><circle cx="464.70" cy="282.70" r="3.1"/><circle cx="464.70" cy="291.70" r="3.1"/></g><g fill="#a4a4a4" stroke="#6a6a6a" stroke-width="0.7"><circle cx="465.00" cy="311.20" r="3.2"/></g></g>
<path d="M379.18,261.83 A520,520 0 0 1 550.82,261.83" fill="none" stroke="#444" stroke-width="7.6"/>
<path d="M379.18,261.83 A520,520 0 0 1 550.82,261.83" fill="none" stroke="#7a7a7a" stroke-width="6.6"/>
<path d="M378.83,259.76 A522.1,522.1 0 0 1 551.17,259.76" fill="none" stroke="#a8a8a8" stroke-width="2.4"/>
<path d="M379.24,262.23 A519.6,519.6 0 0 1 550.76,262.23" fill="none" stroke="#2c2c2c" stroke-width="2.4"/>
<path d="M389.46,308.28 A472.5,472.5 0 0 1 540.54,308.28" fill="none" stroke="#444" stroke-width="7.6"/>
<path d="M389.46,308.28 A472.5,472.5 0 0 1 540.54,308.28" fill="none" stroke="#7a7a7a" stroke-width="6.6"/>
<path d="M389.12,306.21 A474.6,474.6 0 0 1 540.88,306.21" fill="none" stroke="#a8a8a8" stroke-width="2.4"/>
<path d="M389.52,308.67 A472.1,472.1 0 0 1 540.48,308.67" fill="none" stroke="#2c2c2c" stroke-width="2.4"/>
<text x="138.2" y="112.6" font-size="18" font-weight="normal" fill="#1e1e1e" text-anchor="start" textLength="27.6" lengthAdjust="spacingAndGlyphs" >7.5</text>
<path d="M169.10,100.20 L170.50,100.20 L168.40,104.10z M172.50,100.20 L173.90,100.20 L171.80,104.10z" fill="#1e1e1e" stroke="#1e1e1e" stroke-width="0.5" stroke-linejoin="round"/>
<text x="179.2" y="113.2" font-size="12.2" font-weight="normal" fill="#1e1e1e" text-anchor="start" textLength="41.4" lengthAdjust="spacingAndGlyphs" >(19cm)</text>
<text x="428.4" y="112.4" font-size="18" font-weight="normal" fill="#1e1e1e" text-anchor="start" textLength="10.6" lengthAdjust="spacingAndGlyphs" >5</text>
<path d="M443.70,100.60 L445.10,100.60 L443.00,104.50z M447.10,100.60 L448.50,100.60 L446.40,104.50z" fill="#1e1e1e" stroke="#1e1e1e" stroke-width="0.5" stroke-linejoin="round"/>
<text x="453.6" y="113.8" font-size="12.2" font-weight="normal" fill="#1e1e1e" text-anchor="start" textLength="53.2" lengthAdjust="spacingAndGlyphs" >(12.8cm)</text>
<text x="428.6" y="231.1" font-size="18" font-weight="normal" fill="#1e1e1e" text-anchor="start" textLength="25.0" lengthAdjust="spacingAndGlyphs" >5.1</text>
<path d="M459.20,219.40 L460.60,219.40 L458.50,223.30z M462.60,219.40 L464.00,219.40 L461.90,223.30z" fill="#1e1e1e" stroke="#1e1e1e" stroke-width="0.5" stroke-linejoin="round"/>
<text x="469.8" y="232" font-size="12.2" font-weight="normal" fill="#1e1e1e" text-anchor="start" textLength="40.9" lengthAdjust="spacingAndGlyphs" >(13cm)</text>
<text x="27.6" y="215.8" font-size="18" font-weight="normal" fill="#1e1e1e" text-anchor="start" textLength="38.0" lengthAdjust="spacingAndGlyphs" >7.55</text>
<path d="M69.10,203.30 L70.50,203.30 L68.40,207.20z M72.50,203.30 L73.90,203.30 L71.80,207.20z" fill="#1e1e1e" stroke="#1e1e1e" stroke-width="0.5" stroke-linejoin="round"/>
<text x="20.7" y="230.6" font-size="12.2" font-weight="normal" fill="#1e1e1e" text-anchor="start" textLength="53.5" lengthAdjust="spacingAndGlyphs" >(19.2cm)</text>
<text x="323.7" y="158.6" font-size="18" font-weight="normal" fill="#1e1e1e" text-anchor="start" textLength="27.5" lengthAdjust="spacingAndGlyphs" >2.6</text>
<path d="M354.80,145.80 L356.20,145.80 L354.10,149.70z M358.20,145.80 L359.60,145.80 L357.50,149.70z" fill="#1e1e1e" stroke="#1e1e1e" stroke-width="0.5" stroke-linejoin="round"/>
<text x="315.3" y="172.6" font-size="12.2" font-weight="normal" fill="#1e1e1e" text-anchor="start" textLength="45.8" lengthAdjust="spacingAndGlyphs" >(6.6cm)</text>
<text x="332.0" y="275.9" font-size="18" font-weight="normal" fill="#1e1e1e" text-anchor="start" >3</text>
<path d="M346.60,263.60 L348.00,263.60 L345.90,267.50z M350.00,263.60 L351.40,263.60 L349.30,267.50z" fill="#1e1e1e" stroke="#1e1e1e" stroke-width="0.5" stroke-linejoin="round"/>
<text x="315.3" y="290.4" font-size="12.2" font-weight="normal" fill="#1e1e1e" text-anchor="start" textLength="45.5" lengthAdjust="spacingAndGlyphs" >(7.8cm)</text>
<rect x="142.3" y="315.6" width="70.7" height="26.9" rx="4" fill="#16336e"/>
<path d="M165.50,327.30 L176.30,337.00 M176.30,327.30 L165.50,337.00" stroke="#fff" stroke-width="3.3"/>
<text x="178.2" y="338.1" font-size="23.2" font-weight="bold" fill="#fff" text-anchor="start" textLength="14.5" lengthAdjust="spacingAndGlyphs" stroke="#fff" stroke-width="0.7" stroke-linejoin="round">2</text>
<rect x="571" y="143.3" width="70.7" height="26.7" rx="4" fill="#16336e"/>
<path d="M587.20,153.80 L598.00,163.40 M598.00,153.80 L587.20,163.40" stroke="#fff" stroke-width="3.3"/>
<text x="600" y="165.4" font-size="23.2" font-weight="bold" fill="#fff" text-anchor="start" textLength="29.2" lengthAdjust="spacingAndGlyphs" stroke="#fff" stroke-width="0.7" stroke-linejoin="round">20</text>
<rect x="571" y="268.5" width="70.7" height="26.5" rx="4" fill="#16336e"/>
<path d="M587.20,278.80 L598.00,288.40 M598.00,278.80 L587.20,288.40" stroke="#fff" stroke-width="3.3"/>
<text x="600" y="290.6" font-size="23.2" font-weight="bold" fill="#fff" text-anchor="start" textLength="29.2" lengthAdjust="spacingAndGlyphs" stroke="#fff" stroke-width="0.7" stroke-linejoin="round">32</text>
<text x="17.2" y="492.2" font-size="21.6" font-weight="bold" fill="#14285a" text-anchor="start" textLength="187.5" lengthAdjust="spacingAndGlyphs" stroke="#14285a" stroke-width="1.1" stroke-linejoin="round">CONTAINS 54 TRACKS</text>
<text x="16.2" y="517.3" font-size="21.6" font-weight="bold" fill="#14285a" text-anchor="start" textLength="206.5" lengthAdjust="spacingAndGlyphs" stroke="#14285a" stroke-width="1.1" stroke-linejoin="round">(TRAINS NOT INCLUDED)</text>
<g fill="#717171" stroke="#3a3a3a" stroke-width="0.6"><rect x="-1.70" y="-8.00" width="3.4" height="16.0" transform="translate(332.75,367.70) rotate(0.0)"/><rect x="-1.70" y="-8.00" width="3.4" height="16.0" transform="translate(341.27,367.70) rotate(0.0)"/><rect x="-1.70" y="-8.00" width="3.4" height="16.0" transform="translate(349.80,367.70) rotate(0.0)"/><rect x="-1.70" y="-8.00" width="3.4" height="16.0" transform="translate(358.32,367.70) rotate(0.0)"/><rect x="-1.70" y="-8.00" width="3.4" height="16.0" transform="translate(366.84,367.70) rotate(0.0)"/><rect x="-1.70" y="-8.00" width="3.4" height="16.0" transform="translate(375.37,367.70) rotate(0.0)"/><rect x="-1.70" y="-8.00" width="3.4" height="16.0" transform="translate(383.89,367.70) rotate(0.0)"/><rect x="-1.70" y="-8.00" width="3.4" height="16.0" transform="translate(392.41,367.70) rotate(0.0)"/><rect x="-1.70" y="-8.00" width="3.4" height="16.0" transform="translate(400.93,367.70) rotate(0.0)"/><rect x="-1.70" y="-8.00" width="3.4" height="16.0" transform="translate(409.46,367.70) rotate(0.0)"/><rect x="-1.70" y="-8.00" width="3.4" height="16.0" transform="translate(417.98,367.70) rotate(0.0)"/><rect x="-1.70" y="-8.00" width="3.4" height="16.0" transform="translate(426.50,367.70) rotate(0.0)"/><rect x="-1.70" y="-8.00" width="3.4" height="16.0" transform="translate(435.03,367.70) rotate(0.0)"/><rect x="-1.70" y="-8.00" width="3.4" height="16.0" transform="translate(443.55,367.70) rotate(0.0)"/><rect x="-1.70" y="-8.00" width="3.4" height="16.0" transform="translate(452.07,367.70) rotate(0.0)"/><rect x="-1.70" y="-8.00" width="3.4" height="16.0" transform="translate(460.60,367.70) rotate(0.0)"/><rect x="-1.70" y="-8.00" width="3.4" height="16.0" transform="translate(469.12,367.70) rotate(0.0)"/><rect x="-1.70" y="-8.00" width="3.4" height="16.0" transform="translate(477.64,367.70) rotate(0.0)"/><rect x="-1.70" y="-8.00" width="3.4" height="16.0" transform="translate(486.17,367.70) rotate(0.0)"/><rect x="-1.70" y="-8.00" width="3.4" height="16.0" transform="translate(494.69,367.70) rotate(0.0)"/><rect x="-1.70" y="-8.00" width="3.4" height="16.0" transform="translate(503.21,367.70) rotate(0.0)"/><rect x="-1.70" y="-8.00" width="3.4" height="16.0" transform="translate(511.74,367.70) rotate(0.0)"/><rect x="-1.70" y="-8.00" width="3.4" height="16.0" transform="translate(520.26,367.70) rotate(0.0)"/><rect x="-1.70" y="-8.00" width="3.4" height="16.0" transform="translate(528.78,367.70) rotate(0.0)"/><rect x="-1.70" y="-8.00" width="3.4" height="16.0" transform="translate(537.30,367.70) rotate(0.0)"/><rect x="-1.70" y="-8.00" width="3.4" height="16.0" transform="translate(545.83,367.70) rotate(0.0)"/><rect x="-1.70" y="-8.00" width="3.4" height="16.0" transform="translate(554.35,367.70) rotate(0.0)"/><rect x="-1.70" y="-8.00" width="3.4" height="16.0" transform="translate(562.87,367.70) rotate(0.0)"/><rect x="-1.70" y="-8.00" width="3.4" height="16.0" transform="translate(571.40,367.70) rotate(0.0)"/><rect x="-1.70" y="-8.00" width="3.4" height="16.0" transform="translate(579.91,368.13) rotate(5.8)"/><rect x="-1.70" y="-8.00" width="3.4" height="16.0" transform="translate(588.32,369.45) rotate(12.0)"/><rect x="-1.70" y="-8.00" width="3.4" height="16.0" transform="translate(596.56,371.62) rotate(17.5)"/><rect x="-1.70" y="-8.00" width="3.4" height="16.0" transform="translate(604.52,374.65) rotate(23.7)"/><rect x="-1.70" y="-8.00" width="3.4" height="16.0" transform="translate(612.13,378.48) rotate(29.9)"/><rect x="-1.70" y="-8.00" width="3.4" height="16.0" transform="translate(619.30,383.08) rotate(35.4)"/><rect x="-1.70" y="-8.00" width="3.4" height="16.0" transform="translate(625.96,388.40) rotate(41.6)"/><rect x="-1.70" y="-8.00" width="3.4" height="16.0" transform="translate(632.02,394.38) rotate(47.7)"/><rect x="-1.70" y="-8.00" width="3.4" height="16.0" transform="translate(637.44,400.96) rotate(53.2)"/><rect x="-1.70" y="-8.00" width="3.4" height="16.0" transform="translate(642.14,408.06) rotate(59.4)"/><rect x="-1.70" y="-8.00" width="3.4" height="16.0" transform="translate(646.08,415.61) rotate(65.6)"/><rect x="-1.70" y="-8.00" width="3.4" height="16.0" transform="translate(649.21,423.54) rotate(71.1)"/><rect x="-1.70" y="-8.00" width="3.4" height="16.0" transform="translate(651.51,431.74) rotate(77.3)"/><rect x="-1.70" y="-8.00" width="3.4" height="16.0" transform="translate(652.94,440.14) rotate(83.5)"/><rect x="-1.70" y="-8.00" width="3.4" height="16.0" transform="translate(653.49,448.64) rotate(89.0)"/><rect x="-1.70" y="-8.00" width="3.4" height="16.0" transform="translate(653.50,457.16) rotate(90.0)"/><rect x="-1.70" y="-8.00" width="3.4" height="16.0" transform="translate(653.50,465.69) rotate(90.0)"/><rect x="-1.70" y="-8.00" width="3.4" height="16.0" transform="translate(653.50,474.21) rotate(90.0)"/><rect x="-1.70" y="-8.00" width="3.4" height="16.0" transform="translate(653.50,482.73) rotate(90.0)"/><rect x="-1.70" y="-8.00" width="3.4" height="16.0" transform="translate(653.50,491.26) rotate(90.0)"/><rect x="-1.70" y="-8.00" width="3.4" height="16.0" transform="translate(653.50,499.78) rotate(90.0)"/><rect x="-1.70" y="-8.00" width="3.4" height="16.0" transform="translate(653.50,508.30) rotate(90.0)"/><rect x="-1.70" y="-8.00" width="3.4" height="16.0" transform="translate(653.50,516.82) rotate(90.0)"/><rect x="-1.70" y="-8.00" width="3.4" height="16.0" transform="translate(653.50,525.35) rotate(90.0)"/><rect x="-1.70" y="-8.00" width="3.4" height="16.0" transform="translate(653.50,533.87) rotate(90.0)"/><rect x="-1.70" y="-8.00" width="3.4" height="16.0" transform="translate(653.50,542.39) rotate(90.0)"/><rect x="-1.70" y="-8.00" width="3.4" height="16.0" transform="translate(653.50,550.92) rotate(90.0)"/><rect x="-1.70" y="-8.00" width="3.4" height="16.0" transform="translate(653.50,559.44) rotate(90.3)"/><rect x="-1.70" y="-8.00" width="3.4" height="16.0" transform="translate(653.01,567.95) rotate(96.5)"/><rect x="-1.70" y="-8.00" width="3.4" height="16.0" transform="translate(651.64,576.35) rotate(102.0)"/><rect x="-1.70" y="-8.00" width="3.4" height="16.0" transform="translate(649.41,584.58) rotate(108.2)"/><rect x="-1.70" y="-8.00" width="3.4" height="16.0" transform="translate(646.33,592.52) rotate(114.4)"/><rect x="-1.70" y="-8.00" width="3.4" height="16.0" transform="translate(642.45,600.10) rotate(119.9)"/><rect x="-1.70" y="-8.00" width="3.4" height="16.0" transform="translate(637.80,607.24) rotate(126.1)"/><rect x="-1.70" y="-8.00" width="3.4" height="16.0" transform="translate(632.44,613.86) rotate(132.3)"/><rect x="-1.70" y="-8.00" width="3.4" height="16.0" transform="translate(626.42,619.89) rotate(137.7)"/><rect x="-1.70" y="-8.00" width="3.4" height="16.0" transform="translate(619.81,625.26) rotate(143.9)"/><rect x="-1.70" y="-8.00" width="3.4" height="16.0" transform="translate(612.67,629.91) rotate(150.1)"/><rect x="-1.70" y="-8.00" width="3.4" height="16.0" transform="translate(605.09,633.80) rotate(155.6)"/><rect x="-1.70" y="-8.00" width="3.4" height="16.0" transform="translate(597.15,636.88) rotate(161.8)"/><rect x="-1.70" y="-8.00" width="3.4" height="16.0" transform="translate(588.93,639.13) rotate(168.0)"/><rect x="-1.70" y="-8.00" width="3.4" height="16.0" transform="translate(580.52,640.50) rotate(173.5)"/><rect x="-1.70" y="-8.00" width="3.4" height="16.0" transform="translate(572.02,641.00) rotate(179.7)"/><rect x="-1.70" y="-8.00" width="3.4" height="16.0" transform="translate(563.49,641.00) rotate(180.0)"/><rect x="-1.70" y="-8.00" width="3.4" height="16.0" transform="translate(554.97,641.00) rotate(180.0)"/><rect x="-1.70" y="-8.00" width="3.4" height="16.0" transform="translate(546.45,641.00) rotate(180.0)"/><rect x="-1.70" y="-8.00" width="3.4" height="16.0" transform="translate(537.93,641.00) rotate(180.0)"/><rect x="-1.70" y="-8.00" width="3.4" height="16.0" transform="translate(529.40,641.00) rotate(180.0)"/><rect x="-1.70" y="-8.00" width="3.4" height="16.0" transform="translate(520.88,641.00) rotate(180.0)"/><rect x="-1.70" y="-8.00" width="3.4" height="16.0" transform="translate(512.36,641.00) rotate(180.0)"/><rect x="-1.70" y="-8.00" width="3.4" height="16.0" transform="translate(503.83,641.00) rotate(180.0)"/><rect x="-1.70" y="-8.00" width="3.4" height="16.0" transform="translate(495.31,641.00) rotate(180.0)"/><rect x="-1.70" y="-8.00" width="3.4" height="16.0" transform="translate(486.79,641.00) rotate(180.0)"/><rect x="-1.70" y="-8.00" width="3.4" height="16.0" transform="translate(478.26,641.00) rotate(180.0)"/><rect x="-1.70" y="-8.00" width="3.4" height="16.0" transform="translate(469.74,641.00) rotate(180.0)"/><rect x="-1.70" y="-8.00" width="3.4" height="16.0" transform="translate(461.22,641.00) rotate(180.0)"/><rect x="-1.70" y="-8.00" width="3.4" height="16.0" transform="translate(452.69,641.00) rotate(180.0)"/><rect x="-1.70" y="-8.00" width="3.4" height="16.0" transform="translate(444.17,641.00) rotate(180.0)"/><rect x="-1.70" y="-8.00" width="3.4" height="16.0" transform="translate(435.65,641.00) rotate(180.0)"/><rect x="-1.70" y="-8.00" width="3.4" height="16.0" transform="translate(427.12,641.00) rotate(180.0)"/><rect x="-1.70" y="-8.00" width="3.4" height="16.0" transform="translate(418.60,641.00) rotate(180.0)"/><rect x="-1.70" y="-8.00" width="3.4" height="16.0" transform="translate(410.08,641.00) rotate(180.0)"/><rect x="-1.70" y="-8.00" width="3.4" height="16.0" transform="translate(401.56,641.00) rotate(180.0)"/><rect x="-1.70" y="-8.00" width="3.4" height="16.0" transform="translate(393.03,641.00) rotate(180.0)"/><rect x="-1.70" y="-8.00" width="3.4" height="16.0" transform="translate(384.51,641.00) rotate(180.0)"/><rect x="-1.70" y="-8.00" width="3.4" height="16.0" transform="translate(375.99,641.00) rotate(180.0)"/><rect x="-1.70" y="-8.00" width="3.4" height="16.0" transform="translate(367.46,641.00) rotate(180.0)"/><rect x="-1.70" y="-8.00" width="3.4" height="16.0" transform="translate(358.94,641.00) rotate(180.0)"/><rect x="-1.70" y="-8.00" width="3.4" height="16.0" transform="translate(350.42,641.00) rotate(180.0)"/><rect x="-1.70" y="-8.00" width="3.4" height="16.0" transform="translate(341.89,641.00) rotate(180.0)"/><rect x="-1.70" y="-8.00" width="3.4" height="16.0" transform="translate(333.37,641.00) rotate(180.0)"/><rect x="-1.70" y="-8.00" width="3.4" height="16.0" transform="translate(324.85,640.89) rotate(-176.9)"/><rect x="-1.70" y="-8.00" width="3.4" height="16.0" transform="translate(316.37,640.02) rotate(-171.4)"/><rect x="-1.70" y="-8.00" width="3.4" height="16.0" transform="translate(308.04,638.27) rotate(-165.2)"/><rect x="-1.70" y="-8.00" width="3.4" height="16.0" transform="translate(299.92,635.67) rotate(-159.0)"/><rect x="-1.70" y="-8.00" width="3.4" height="16.0" transform="translate(292.13,632.24) rotate(-153.5)"/><rect x="-1.70" y="-8.00" width="3.4" height="16.0" transform="translate(284.73,628.02) rotate(-147.4)"/><rect x="-1.70" y="-8.00" width="3.4" height="16.0" transform="translate(277.80,623.05) rotate(-141.2)"/><rect x="-1.70" y="-8.00" width="3.4" height="16.0" transform="translate(271.43,617.40) rotate(-135.7)"/><rect x="-1.70" y="-8.00" width="3.4" height="16.0" transform="translate(265.69,611.11) rotate(-129.5)"/><rect x="-1.70" y="-8.00" width="3.4" height="16.0" transform="translate(260.62,604.26) rotate(-123.3)"/><rect x="-1.70" y="-8.00" width="3.4" height="16.0" transform="translate(256.29,596.92) rotate(-117.8)"/><rect x="-1.70" y="-8.00" width="3.4" height="16.0" transform="translate(252.75,589.17) rotate(-111.6)"/><rect x="-1.70" y="-8.00" width="3.4" height="16.0" transform="translate(250.03,581.10) rotate(-105.5)"/><rect x="-1.70" y="-8.00" width="3.4" height="16.0" transform="translate(248.17,572.79) rotate(-100.0)"/><rect x="-1.70" y="-8.00" width="3.4" height="16.0" transform="translate(247.17,564.32) rotate(-93.8)"/><rect x="-1.70" y="-8.00" width="3.4" height="16.0" transform="translate(247.00,555.80) rotate(-90.0)"/><rect x="-1.70" y="-8.00" width="3.4" height="16.0" transform="translate(247.00,547.28) rotate(-90.0)"/><rect x="-1.70" y="-8.00" width="3.4" height="16.0" transform="translate(247.00,538.76) rotate(-90.0)"/><rect x="-1.70" y="-8.00" width="3.4" height="16.0" transform="translate(247.00,530.24) rotate(-90.0)"/><rect x="-1.70" y="-8.00" width="3.4" height="16.0" transform="translate(247.00,521.71) rotate(-90.0)"/><rect x="-1.70" y="-8.00" width="3.4" height="16.0" transform="translate(247.00,513.19) rotate(-90.0)"/><rect x="-1.70" y="-8.00" width="3.4" height="16.0" transform="translate(247.00,504.67) rotate(-90.0)"/><rect x="-1.70" y="-8.00" width="3.4" height="16.0" transform="translate(247.00,496.14) rotate(-90.0)"/><rect x="-1.70" y="-8.00" width="3.4" height="16.0" transform="translate(247.00,487.62) rotate(-90.0)"/><rect x="-1.70" y="-8.00" width="3.4" height="16.0" transform="translate(247.00,479.10) rotate(-90.0)"/><rect x="-1.70" y="-8.00" width="3.4" height="16.0" transform="translate(247.00,470.57) rotate(-90.0)"/><rect x="-1.70" y="-8.00" width="3.4" height="16.0" transform="translate(247.00,462.05) rotate(-90.0)"/><rect x="-1.70" y="-8.00" width="3.4" height="16.0" transform="translate(247.00,453.53) rotate(-90.0)"/><rect x="-1.70" y="-8.00" width="3.4" height="16.0" transform="translate(247.14,445.01) rotate(-86.9)"/><rect x="-1.70" y="-8.00" width="3.4" height="16.0" transform="translate(248.06,436.54) rotate(-80.7)"/><rect x="-1.70" y="-8.00" width="3.4" height="16.0" transform="translate(249.87,428.21) rotate(-74.5)"/><rect x="-1.70" y="-8.00" width="3.4" height="16.0" transform="translate(252.52,420.12) rotate(-69.0)"/><rect x="-1.70" y="-8.00" width="3.4" height="16.0" transform="translate(256.01,412.34) rotate(-62.9)"/><rect x="-1.70" y="-8.00" width="3.4" height="16.0" transform="translate(260.27,404.97) rotate(-56.7)"/><rect x="-1.70" y="-8.00" width="3.4" height="16.0" transform="translate(265.29,398.08) rotate(-51.2)"/><rect x="-1.70" y="-8.00" width="3.4" height="16.0" transform="translate(270.99,391.75) rotate(-45.0)"/><rect x="-1.70" y="-8.00" width="3.4" height="16.0" transform="translate(277.31,386.04) rotate(-38.8)"/><rect x="-1.70" y="-8.00" width="3.4" height="16.0" transform="translate(284.20,381.02) rotate(-33.3)"/><rect x="-1.70" y="-8.00" width="3.4" height="16.0" transform="translate(291.56,376.75) rotate(-27.1)"/><rect x="-1.70" y="-8.00" width="3.4" height="16.0" transform="translate(299.33,373.26) rotate(-21.0)"/><rect x="-1.70" y="-8.00" width="3.4" height="16.0" transform="translate(307.43,370.59) rotate(-15.5)"/><rect x="-1.70" y="-8.00" width="3.4" height="16.0" transform="translate(315.75,368.78) rotate(-9.3)"/><rect x="-1.70" y="-8.00" width="3.4" height="16.0" transform="translate(324.22,367.84) rotate(-3.1)"/></g>
<polygon points="328.98,362.55 332.01,362.55 335.01,362.55 338.02,362.55 341.02,362.55 344.03,362.55 347.04,362.55 350.04,362.55 353.05,362.55 356.06,362.55 359.06,362.55 362.07,362.55 365.07,362.55 368.08,362.55 371.09,362.55 374.09,362.55 377.10,362.55 380.11,362.55 383.11,362.55 386.12,362.55 389.12,362.55 392.13,362.55 395.14,362.55 398.14,362.55 401.15,362.55 404.15,362.55 407.16,362.55 410.17,362.55 413.17,362.55 416.18,362.55 419.19,362.55 422.19,362.55 425.20,362.55 428.20,362.55 431.21,362.55 434.22,362.55 437.22,362.55 440.23,362.55 443.24,362.55 446.24,362.55 449.25,362.55 452.25,362.55 455.26,362.55 458.27,362.55 461.27,362.55 464.28,362.55 467.29,362.55 470.29,362.55 473.30,362.55 476.30,362.55 479.31,362.55 482.32,362.55 485.32,362.55 488.33,362.55 491.33,362.55 494.34,362.55 497.35,362.55 500.35,362.55 503.36,362.55 506.37,362.55 509.37,362.55 512.38,362.55 515.38,362.55 518.39,362.55 521.40,362.55 524.40,362.55 527.41,362.55 530.42,362.55 533.42,362.55 536.43,362.55 539.43,362.55 542.44,362.55 545.45,362.55 548.45,362.55 551.46,362.55 554.46,362.55 557.47,362.55 560.48,362.55 563.48,362.55 566.49,362.55 569.50,362.55 572.54,362.56 575.68,362.65 578.81,362.86 581.92,363.18 585.03,363.61 588.12,364.15 591.18,364.80 594.22,365.56 597.24,366.44 600.21,367.42 603.15,368.50 606.05,369.69 608.91,370.99 611.72,372.38 614.47,373.88 617.17,375.47 619.81,377.16 622.39,378.95 624.90,380.83 627.34,382.79 629.71,384.84 632.01,386.98 634.22,389.19 636.36,391.49 638.41,393.86 640.37,396.30 642.25,398.81 644.04,401.39 645.73,404.03 647.32,406.73 648.82,409.48 650.21,412.29 651.51,415.15 652.70,418.05 653.78,420.99 654.76,423.96 655.64,426.98 656.40,430.02 657.05,433.08 657.59,436.17 658.02,439.28 658.34,442.39 658.55,445.52 658.64,448.66 658.65,451.71 658.65,454.71 658.65,457.72 658.65,460.73 658.65,463.74 658.65,466.75 658.65,469.76 658.65,472.76 658.65,475.77 658.65,478.78 658.65,481.79 658.65,484.80 658.65,487.80 658.65,490.81 658.65,493.82 658.65,496.83 658.65,499.84 658.65,502.85 658.65,505.85 658.65,508.86 658.65,511.87 658.65,514.88 658.65,517.89 658.65,520.90 658.65,523.90 658.65,526.91 658.65,529.92 658.65,532.93 658.65,535.94 658.65,538.94 658.65,541.95 658.65,544.96 658.65,547.97 658.65,550.98 658.65,553.99 658.65,556.99 658.64,560.04 658.55,563.18 658.34,566.31 658.02,569.42 657.59,572.53 657.05,575.62 656.40,578.68 655.64,581.72 654.76,584.74 653.78,587.71 652.70,590.65 651.51,593.55 650.21,596.41 648.82,599.22 647.32,601.97 645.73,604.67 644.04,607.31 642.25,609.89 640.37,612.40 638.41,614.84 636.36,617.21 634.22,619.51 632.01,621.72 629.71,623.86 627.34,625.91 624.90,627.87 622.39,629.75 619.81,631.54 617.17,633.23 614.47,634.82 611.72,636.32 608.91,637.71 606.05,639.01 603.15,640.20 600.21,641.28 597.24,642.26 594.22,643.14 591.18,643.90 588.12,644.55 585.03,645.09 581.92,645.52 578.81,645.84 575.68,646.05 572.54,646.14 569.50,646.15 566.49,646.15 563.48,646.15 560.48,646.15 557.47,646.15 554.46,646.15 551.46,646.15 548.45,646.15 545.45,646.15 542.44,646.15 539.43,646.15 536.43,646.15 533.42,646.15 530.42,646.15 527.41,646.15 524.40,646.15 521.40,646.15 518.39,646.15 515.38,646.15 512.38,646.15 509.37,646.15 506.37,646.15 503.36,646.15 500.35,646.15 497.35,646.15 494.34,646.15 491.33,646.15 488.33,646.15 485.32,646.15 482.32,646.15 479.31,646.15 476.30,646.15 473.30,646.15 470.29,646.15 467.29,646.15 464.28,646.15 461.27,646.15 458.27,646.15 455.26,646.15 452.25,646.15 449.25,646.15 446.24,646.15 443.24,646.15 440.23,646.15 437.22,646.15 434.22,646.15 431.21,646.15 428.20,646.15 425.20,646.15 422.19,646.15 419.19,646.15 416.18,646.15 413.17,646.15 410.17,646.15 407.16,646.15 404.15,646.15 401.15,646.15 398.14,646.15 395.14,646.15 392.13,646.15 389.12,646.15 386.12,646.15 383.11,646.15 380.11,646.15 377.10,646.15 374.09,646.15 371.09,646.15 368.08,646.15 365.07,646.15 362.07,646.15 359.06,646.15 356.06,646.15 353.05,646.15 350.04,646.15 347.04,646.15 344.03,646.15 341.02,646.15 338.02,646.15 335.01,646.15 332.01,646.15 328.98,646.15 325.87,646.09 322.74,645.92 319.61,645.64 316.50,645.25 313.41,644.74 310.34,644.13 307.29,643.40 304.26,642.57 301.28,641.62 298.32,640.57 295.41,639.42 292.54,638.16 289.71,636.79 286.94,635.33 284.22,633.77 281.56,632.11 278.97,630.36 276.43,628.51 273.97,626.57 271.57,624.55 269.25,622.44 267.01,620.25 264.84,617.98 262.76,615.64 260.77,613.22 258.86,610.73 257.05,608.18 255.33,605.56 253.70,602.88 252.17,600.14 250.74,597.35 249.41,594.51 248.19,591.63 247.07,588.70 246.05,585.73 245.14,582.73 244.34,579.70 243.65,576.64 243.08,573.56 242.61,570.46 242.25,567.35 242.01,564.22 241.88,561.09 241.85,558.00 241.85,554.99 241.85,551.98 241.85,548.97 241.85,545.96 241.85,542.96 241.85,539.95 241.85,536.94 241.85,533.93 241.85,530.92 241.85,527.91 241.85,524.91 241.85,521.90 241.85,518.89 241.85,515.88 241.85,512.87 241.85,509.87 241.85,506.86 241.85,503.85 241.85,500.84 241.85,497.83 241.85,494.82 241.85,491.82 241.85,488.81 241.85,485.80 241.85,482.79 241.85,479.78 241.85,476.77 241.85,473.77 241.85,470.76 241.85,467.75 241.85,464.74 241.85,461.73 241.85,458.72 241.85,455.72 241.85,452.71 241.85,449.68 241.91,446.57 242.08,443.44 242.36,440.31 242.75,437.20 243.26,434.11 243.87,431.04 244.60,427.99 245.43,424.96 246.38,421.98 247.43,419.02 248.58,416.11 249.84,413.24 251.21,410.41 252.67,407.64 254.23,404.92 255.89,402.26 257.64,399.67 259.49,397.13 261.43,394.67 263.45,392.27 265.56,389.95 267.75,387.71 270.02,385.54 272.36,383.46 274.78,381.47 277.27,379.56 279.82,377.75 282.44,376.03 285.12,374.40 287.86,372.87 290.65,371.44 293.49,370.11 296.37,368.89 299.30,367.77 302.27,366.75 305.27,365.84 308.30,365.04 311.36,364.35 314.44,363.78 317.54,363.31 320.65,362.95 323.78,362.71 326.91,362.58" fill="none" stroke="#1a1a1a" stroke-width="1.45"/>
<polygon points="329.02,372.85 332.01,372.85 335.01,372.85 338.02,372.85 341.02,372.85 344.03,372.85 347.04,372.85 350.04,372.85 353.05,372.85 356.06,372.85 359.06,372.85 362.07,372.85 365.07,372.85 368.08,372.85 371.09,372.85 374.09,372.85 377.10,372.85 380.11,372.85 383.11,372.85 386.12,372.85 389.12,372.85 392.13,372.85 395.14,372.85 398.14,372.85 401.15,372.85 404.15,372.85 407.16,372.85 410.17,372.85 413.17,372.85 416.18,372.85 419.19,372.85 422.19,372.85 425.20,372.85 428.20,372.85 431.21,372.85 434.22,372.85 437.22,372.85 440.23,372.85 443.24,372.85 446.24,372.85 449.25,372.85 452.25,372.85 455.26,372.85 458.27,372.85 461.27,372.85 464.28,372.85 467.29,372.85 470.29,372.85 473.30,372.85 476.30,372.85 479.31,372.85 482.32,372.85 485.32,372.85 488.33,372.85 491.33,372.85 494.34,372.85 497.35,372.85 500.35,372.85 503.36,372.85 506.37,372.85 509.37,372.85 512.38,372.85 515.38,372.85 518.39,372.85 521.40,372.85 524.40,372.85 527.41,372.85 530.42,372.85 533.42,372.85 536.43,372.85 539.43,372.85 542.44,372.85 545.45,372.85 548.45,372.85 551.46,372.85 554.46,372.85 557.47,372.85 560.48,372.85 563.48,372.85 566.49,372.85 569.50,372.85 572.42,372.86 575.18,372.94 577.94,373.12 580.69,373.40 583.43,373.78 586.15,374.26 588.86,374.84 591.54,375.51 594.19,376.28 596.82,377.14 599.41,378.10 601.97,379.15 604.49,380.29 606.96,381.52 609.39,382.84 611.77,384.25 614.10,385.74 616.37,387.31 618.59,388.97 620.74,390.70 622.83,392.51 624.86,394.39 626.81,396.34 628.69,398.37 630.50,400.46 632.23,402.61 633.89,404.83 635.46,407.10 636.95,409.43 638.36,411.81 639.68,414.24 640.91,416.71 642.05,419.23 643.10,421.79 644.06,424.38 644.92,427.01 645.69,429.66 646.36,432.34 646.94,435.05 647.42,437.77 647.80,440.51 648.08,443.26 648.26,446.02 648.34,448.78 648.35,451.71 648.35,454.71 648.35,457.72 648.35,460.73 648.35,463.74 648.35,466.75 648.35,469.76 648.35,472.76 648.35,475.77 648.35,478.78 648.35,481.79 648.35,484.80 648.35,487.80 648.35,490.81 648.35,493.82 648.35,496.83 648.35,499.84 648.35,502.85 648.35,505.85 648.35,508.86 648.35,511.87 648.35,514.88 648.35,517.89 648.35,520.90 648.35,523.90 648.35,526.91 648.35,529.92 648.35,532.93 648.35,535.94 648.35,538.94 648.35,541.95 648.35,544.96 648.35,547.97 648.35,550.98 648.35,553.99 648.35,556.99 648.34,559.92 648.26,562.68 648.08,565.44 647.80,568.19 647.42,570.93 646.94,573.65 646.36,576.36 645.69,579.04 644.92,581.69 644.06,584.32 643.10,586.91 642.05,589.47 640.91,591.99 639.68,594.46 638.36,596.89 636.95,599.27 635.46,601.60 633.89,603.87 632.23,606.09 630.50,608.24 628.69,610.33 626.81,612.36 624.86,614.31 622.83,616.19 620.74,618.00 618.59,619.73 616.37,621.39 614.10,622.96 611.77,624.45 609.39,625.86 606.96,627.18 604.49,628.41 601.97,629.55 599.41,630.60 596.82,631.56 594.19,632.42 591.54,633.19 588.86,633.86 586.15,634.44 583.43,634.92 580.69,635.30 577.94,635.58 575.18,635.76 572.42,635.84 569.50,635.85 566.49,635.85 563.48,635.85 560.48,635.85 557.47,635.85 554.46,635.85 551.46,635.85 548.45,635.85 545.45,635.85 542.44,635.85 539.43,635.85 536.43,635.85 533.42,635.85 530.42,635.85 527.41,635.85 524.40,635.85 521.40,635.85 518.39,635.85 515.38,635.85 512.38,635.85 509.37,635.85 506.37,635.85 503.36,635.85 500.35,635.85 497.35,635.85 494.34,635.85 491.33,635.85 488.33,635.85 485.32,635.85 482.32,635.85 479.31,635.85 476.30,635.85 473.30,635.85 470.29,635.85 467.29,635.85 464.28,635.85 461.27,635.85 458.27,635.85 455.26,635.85 452.25,635.85 449.25,635.85 446.24,635.85 443.24,635.85 440.23,635.85 437.22,635.85 434.22,635.85 431.21,635.85 428.20,635.85 425.20,635.85 422.19,635.85 419.19,635.85 416.18,635.85 413.17,635.85 410.17,635.85 407.16,635.85 404.15,635.85 401.15,635.85 398.14,635.85 395.14,635.85 392.13,635.85 389.12,635.85 386.12,635.85 383.11,635.85 380.11,635.85 377.10,635.85 374.09,635.85 371.09,635.85 368.08,635.85 365.07,635.85 362.07,635.85 359.06,635.85 356.06,635.85 353.05,635.85 350.04,635.85 347.04,635.85 344.03,635.85 341.02,635.85 338.02,635.85 335.01,635.85 332.01,635.85 329.02,635.85 326.24,635.80 323.48,635.65 320.72,635.40 317.98,635.06 315.25,634.61 312.54,634.07 309.85,633.43 307.19,632.69 304.55,631.86 301.95,630.93 299.38,629.91 296.85,628.80 294.36,627.60 291.91,626.31 289.52,624.93 287.17,623.47 284.88,621.92 282.64,620.29 280.47,618.59 278.36,616.80 276.31,614.95 274.33,613.01 272.43,611.01 270.59,608.95 268.83,606.81 267.15,604.62 265.55,602.36 264.03,600.05 262.60,597.69 261.25,595.28 259.99,592.82 258.82,590.31 257.74,587.77 256.75,585.19 255.85,582.57 255.05,579.93 254.35,577.25 253.74,574.56 253.23,571.84 252.82,569.11 252.50,566.36 252.29,563.60 252.17,560.84 252.15,558.00 252.15,554.99 252.15,551.98 252.15,548.97 252.15,545.96 252.15,542.96 252.15,539.95 252.15,536.94 252.15,533.93 252.15,530.92 252.15,527.91 252.15,524.91 252.15,521.90 252.15,518.89 252.15,515.88 252.15,512.87 252.15,509.87 252.15,506.86 252.15,503.85 252.15,500.84 252.15,497.83 252.15,494.82 252.15,491.82 252.15,488.81 252.15,485.80 252.15,482.79 252.15,479.78 252.15,476.77 252.15,473.77 252.15,470.76 252.15,467.75 252.15,464.74 252.15,461.73 252.15,458.72 252.15,455.72 252.15,452.71 252.15,449.72 252.20,446.94 252.35,444.18 252.60,441.42 252.94,438.68 253.39,435.95 253.93,433.24 254.57,430.55 255.31,427.89 256.14,425.25 257.07,422.65 258.09,420.08 259.20,417.55 260.40,415.06 261.69,412.61 263.07,410.22 264.53,407.87 266.08,405.58 267.71,403.34 269.41,401.17 271.20,399.06 273.05,397.01 274.99,395.03 276.99,393.13 279.05,391.29 281.19,389.53 283.38,387.85 285.64,386.25 287.95,384.73 290.31,383.30 292.72,381.95 295.18,380.69 297.69,379.52 300.23,378.44 302.81,377.45 305.43,376.55 308.07,375.75 310.75,375.05 313.44,374.44 316.16,373.93 318.89,373.52 321.64,373.20 324.40,372.99 327.16,372.87" fill="none" stroke="#1a1a1a" stroke-width="1.45"/>
<g fill="#717171" stroke="#3a3a3a" stroke-width="0.6"><rect x="-1.70" y="-8.00" width="3.4" height="16.0" transform="translate(403.40,436.20) rotate(0.0)"/><rect x="-1.70" y="-8.00" width="3.4" height="16.0" transform="translate(411.94,436.20) rotate(0.0)"/><rect x="-1.70" y="-8.00" width="3.4" height="16.0" transform="translate(420.47,436.20) rotate(0.0)"/><rect x="-1.70" y="-8.00" width="3.4" height="16.0" transform="translate(429.01,436.20) rotate(0.0)"/><rect x="-1.70" y="-8.00" width="3.4" height="16.0" transform="translate(437.55,436.20) rotate(0.0)"/><rect x="-1.70" y="-8.00" width="3.4" height="16.0" transform="translate(446.08,436.20) rotate(0.0)"/><rect x="-1.70" y="-8.00" width="3.4" height="16.0" transform="translate(454.62,436.20) rotate(0.0)"/><rect x="-1.70" y="-8.00" width="3.4" height="16.0" transform="translate(463.16,436.20) rotate(0.0)"/><rect x="-1.70" y="-8.00" width="3.4" height="16.0" transform="translate(471.69,436.20) rotate(0.0)"/><rect x="-1.70" y="-8.00" width="3.4" height="16.0" transform="translate(480.23,436.20) rotate(0.0)"/><rect x="-1.70" y="-8.00" width="3.4" height="16.0" transform="translate(488.76,436.20) rotate(0.0)"/><rect x="-1.70" y="-8.00" width="3.4" height="16.0" transform="translate(497.30,436.20) rotate(0.0)"/><rect x="-1.70" y="-8.00" width="3.4" height="16.0" transform="translate(505.84,436.20) rotate(0.0)"/><rect x="-1.70" y="-8.00" width="3.4" height="16.0" transform="translate(514.37,436.37) rotate(3.9)"/><rect x="-1.70" y="-8.00" width="3.4" height="16.0" transform="translate(522.84,437.43) rotate(10.2)"/><rect x="-1.70" y="-8.00" width="3.4" height="16.0" transform="translate(531.13,439.43) rotate(16.5)"/><rect x="-1.70" y="-8.00" width="3.4" height="16.0" transform="translate(539.15,442.34) rotate(23.4)"/><rect x="-1.70" y="-8.00" width="3.4" height="16.0" transform="translate(546.80,446.12) rotate(29.6)"/><rect x="-1.70" y="-8.00" width="3.4" height="16.0" transform="translate(553.99,450.70) rotate(35.7)"/><rect x="-1.70" y="-8.00" width="3.4" height="16.0" transform="translate(560.66,456.03) rotate(41.8)"/><rect x="-1.70" y="-8.00" width="3.4" height="16.0" transform="translate(566.73,462.03) rotate(47.7)"/><rect x="-1.70" y="-8.00" width="3.4" height="16.0" transform="translate(572.15,468.62) rotate(53.6)"/><rect x="-1.70" y="-8.00" width="3.4" height="16.0" transform="translate(576.88,475.72) rotate(59.4)"/><rect x="-1.70" y="-8.00" width="3.4" height="16.0" transform="translate(580.89,483.25) rotate(64.6)"/><rect x="-1.70" y="-8.00" width="3.4" height="16.0" transform="translate(584.13,491.15) rotate(70.3)"/><rect x="-1.70" y="-8.00" width="3.4" height="16.0" transform="translate(586.60,499.31) rotate(76.0)"/><rect x="-1.70" y="-8.00" width="3.4" height="16.0" transform="translate(588.28,507.68) rotate(81.6)"/><rect x="-1.70" y="-8.00" width="3.4" height="16.0" transform="translate(589.16,516.17) rotate(86.6)"/><rect x="-1.70" y="-8.00" width="3.4" height="16.0" transform="translate(589.26,524.70) rotate(91.6)"/><rect x="-1.70" y="-8.00" width="3.4" height="16.0" transform="translate(588.60,533.21) rotate(97.2)"/><rect x="-1.70" y="-8.00" width="3.4" height="16.0" transform="translate(587.14,541.62) rotate(102.8)"/><rect x="-1.70" y="-8.00" width="3.4" height="16.0" transform="translate(584.88,549.85) rotate(107.8)"/><rect x="-1.70" y="-8.00" width="3.4" height="16.0" transform="translate(581.85,557.82) rotate(113.5)"/><rect x="-1.70" y="-8.00" width="3.4" height="16.0" transform="translate(578.05,565.46) rotate(119.3)"/><rect x="-1.70" y="-8.00" width="3.4" height="16.0" transform="translate(573.52,572.69) rotate(125.1)"/><rect x="-1.70" y="-8.00" width="3.4" height="16.0" transform="translate(568.28,579.43) rotate(131.0)"/><rect x="-1.70" y="-8.00" width="3.4" height="16.0" transform="translate(562.38,585.59) rotate(136.9)"/><rect x="-1.70" y="-8.00" width="3.4" height="16.0" transform="translate(555.87,591.11) rotate(142.9)"/><rect x="-1.70" y="-8.00" width="3.4" height="16.0" transform="translate(548.82,595.91) rotate(149.0)"/><rect x="-1.70" y="-8.00" width="3.4" height="16.0" transform="translate(541.28,599.91) rotate(155.2)"/><rect x="-1.70" y="-8.00" width="3.4" height="16.0" transform="translate(533.35,603.06) rotate(161.4)"/><rect x="-1.70" y="-8.00" width="3.4" height="16.0" transform="translate(525.13,605.32) rotate(167.7)"/><rect x="-1.70" y="-8.00" width="3.4" height="16.0" transform="translate(516.70,606.64) rotate(174.0)"/><rect x="-1.70" y="-8.00" width="3.4" height="16.0" transform="translate(508.17,607.00) rotate(180.0)"/><rect x="-1.70" y="-8.00" width="3.4" height="16.0" transform="translate(499.64,607.00) rotate(180.0)"/><rect x="-1.70" y="-8.00" width="3.4" height="16.0" transform="translate(491.10,607.00) rotate(180.0)"/><rect x="-1.70" y="-8.00" width="3.4" height="16.0" transform="translate(482.56,607.00) rotate(180.0)"/><rect x="-1.70" y="-8.00" width="3.4" height="16.0" transform="translate(474.03,607.00) rotate(180.0)"/><rect x="-1.70" y="-8.00" width="3.4" height="16.0" transform="translate(465.49,607.00) rotate(180.0)"/><rect x="-1.70" y="-8.00" width="3.4" height="16.0" transform="translate(456.95,607.00) rotate(180.0)"/><rect x="-1.70" y="-8.00" width="3.4" height="16.0" transform="translate(448.42,607.00) rotate(180.0)"/><rect x="-1.70" y="-8.00" width="3.4" height="16.0" transform="translate(439.88,607.00) rotate(180.0)"/><rect x="-1.70" y="-8.00" width="3.4" height="16.0" transform="translate(431.34,607.00) rotate(180.0)"/><rect x="-1.70" y="-8.00" width="3.4" height="16.0" transform="translate(422.81,607.00) rotate(180.0)"/><rect x="-1.70" y="-8.00" width="3.4" height="16.0" transform="translate(414.27,607.00) rotate(180.0)"/><rect x="-1.70" y="-8.00" width="3.4" height="16.0" transform="translate(405.73,607.00) rotate(180.0)"/><rect x="-1.70" y="-8.00" width="3.4" height="16.0" transform="translate(397.20,607.00) rotate(-179.6)"/><rect x="-1.70" y="-8.00" width="3.4" height="16.0" transform="translate(388.69,606.42) rotate(-172.6)"/><rect x="-1.70" y="-8.00" width="3.4" height="16.0" transform="translate(380.29,604.89) rotate(-166.3)"/><rect x="-1.70" y="-8.00" width="3.4" height="16.0" transform="translate(372.12,602.43) rotate(-160.1)"/><rect x="-1.70" y="-8.00" width="3.4" height="16.0" transform="translate(364.28,599.08) rotate(-153.8)"/><rect x="-1.70" y="-8.00" width="3.4" height="16.0" transform="translate(356.84,594.89) rotate(-147.7)"/><rect x="-1.70" y="-8.00" width="3.4" height="16.0" transform="translate(349.90,589.92) rotate(-141.6)"/><rect x="-1.70" y="-8.00" width="3.4" height="16.0" transform="translate(343.53,584.25) rotate(-135.6)"/><rect x="-1.70" y="-8.00" width="3.4" height="16.0" transform="translate(337.78,577.95) rotate(-129.6)"/><rect x="-1.70" y="-8.00" width="3.4" height="16.0" transform="translate(332.70,571.10) rotate(-123.8)"/><rect x="-1.70" y="-8.00" width="3.4" height="16.0" transform="translate(328.33,563.77) rotate(-118.0)"/><rect x="-1.70" y="-8.00" width="3.4" height="16.0" transform="translate(324.70,556.04) rotate(-112.2)"/><rect x="-1.70" y="-8.00" width="3.4" height="16.0" transform="translate(321.84,548.00) rotate(-106.6)"/><rect x="-1.70" y="-8.00" width="3.4" height="16.0" transform="translate(319.76,539.73) rotate(-101.5)"/><rect x="-1.70" y="-8.00" width="3.4" height="16.0" transform="translate(318.48,531.29) rotate(-95.9)"/><rect x="-1.70" y="-8.00" width="3.4" height="16.0" transform="translate(318.00,522.77) rotate(-90.3)"/><rect x="-1.70" y="-8.00" width="3.4" height="16.0" transform="translate(318.27,514.24) rotate(-85.3)"/><rect x="-1.70" y="-8.00" width="3.4" height="16.0" transform="translate(319.33,505.77) rotate(-80.3)"/><rect x="-1.70" y="-8.00" width="3.4" height="16.0" transform="translate(321.19,497.45) rotate(-74.7)"/><rect x="-1.70" y="-8.00" width="3.4" height="16.0" transform="translate(323.84,489.33) rotate(-69.0)"/><rect x="-1.70" y="-8.00" width="3.4" height="16.0" transform="translate(327.25,481.52) rotate(-63.3)"/><rect x="-1.70" y="-8.00" width="3.4" height="16.0" transform="translate(331.42,474.07) rotate(-58.2)"/><rect x="-1.70" y="-8.00" width="3.4" height="16.0" transform="translate(336.31,467.08) rotate(-52.3)"/><rect x="-1.70" y="-8.00" width="3.4" height="16.0" transform="translate(341.89,460.62) rotate(-46.4)"/><rect x="-1.70" y="-8.00" width="3.4" height="16.0" transform="translate(348.10,454.77) rotate(-40.4)"/><rect x="-1.70" y="-8.00" width="3.4" height="16.0" transform="translate(354.89,449.60) rotate(-34.4)"/><rect x="-1.70" y="-8.00" width="3.4" height="16.0" transform="translate(362.19,445.19) rotate(-28.2)"/><rect x="-1.70" y="-8.00" width="3.4" height="16.0" transform="translate(369.93,441.60) rotate(-22.0)"/><rect x="-1.70" y="-8.00" width="3.4" height="16.0" transform="translate(378.02,438.89) rotate(-15.1)"/><rect x="-1.70" y="-8.00" width="3.4" height="16.0" transform="translate(386.37,437.10) rotate(-8.8)"/><rect x="-1.70" y="-8.00" width="3.4" height="16.0" transform="translate(394.86,436.27) rotate(-2.5)"/></g>
<polygon points="397.98,431.05 401.01,431.05 404.02,431.05 407.02,431.05 410.03,431.05 413.04,431.05 416.05,431.05 419.06,431.05 422.06,431.05 425.07,431.05 428.08,431.05 431.09,431.05 434.10,431.05 437.11,431.05 440.11,431.05 443.12,431.05 446.13,431.05 449.14,431.05 452.15,431.05 455.15,431.05 458.16,431.05 461.17,431.05 464.18,431.05 467.19,431.05 470.19,431.05 473.20,431.05 476.21,431.05 479.22,431.05 482.23,431.05 485.24,431.05 488.24,431.05 491.25,431.05 494.26,431.05 497.27,431.05 500.28,431.05 503.28,431.05 506.29,431.05 509.32,431.05 512.26,431.10 515.22,431.27 518.17,431.54 521.11,431.92 524.03,432.41 526.94,433.01 529.82,433.71 532.68,434.52 535.51,435.43 538.31,436.44 541.08,437.56 543.80,438.78 546.48,440.10 549.12,441.51 551.71,443.02 554.25,444.63 556.73,446.33 559.15,448.11 561.51,449.99 563.81,451.94 566.05,453.99 568.21,456.11 570.31,458.31 572.33,460.58 574.27,462.93 576.14,465.34 577.93,467.83 579.63,470.37 581.25,472.98 582.78,475.64 584.22,478.36 585.58,481.13 586.84,483.94 588.01,486.80 589.08,489.70 590.06,492.64 590.95,495.61 591.73,498.61 592.42,501.64 593.01,504.69 593.50,507.76 593.89,510.85 594.17,513.94 594.36,517.05 594.44,520.16 594.44,523.04 594.36,526.15 594.17,529.26 593.89,532.35 593.50,535.44 593.01,538.51 592.42,541.56 591.73,544.59 590.95,547.59 590.06,550.56 589.08,553.50 588.01,556.40 586.84,559.26 585.58,562.07 584.22,564.84 582.78,567.56 581.25,570.22 579.63,572.83 577.93,575.37 576.14,577.86 574.27,580.27 572.33,582.62 570.31,584.89 568.21,587.09 566.05,589.21 563.81,591.26 561.51,593.21 559.15,595.09 556.73,596.87 554.25,598.57 551.71,600.18 549.12,601.69 546.48,603.10 543.80,604.42 541.08,605.64 538.31,606.76 535.51,607.77 532.68,608.68 529.82,609.49 526.94,610.19 524.03,610.79 521.11,611.28 518.17,611.66 515.22,611.93 512.26,612.10 509.32,612.15 506.29,612.15 503.28,612.15 500.28,612.15 497.27,612.15 494.26,612.15 491.25,612.15 488.24,612.15 485.24,612.15 482.23,612.15 479.22,612.15 476.21,612.15 473.20,612.15 470.19,612.15 467.19,612.15 464.18,612.15 461.17,612.15 458.16,612.15 455.15,612.15 452.15,612.15 449.14,612.15 446.13,612.15 443.12,612.15 440.11,612.15 437.11,612.15 434.10,612.15 431.09,612.15 428.08,612.15 425.07,612.15 422.06,612.15 419.06,612.15 416.05,612.15 413.04,612.15 410.03,612.15 407.02,612.15 404.02,612.15 401.01,612.15 397.98,612.15 395.04,612.10 392.08,611.93 389.13,611.66 386.19,611.28 383.27,610.79 380.36,610.19 377.48,609.49 374.62,608.68 371.79,607.77 368.99,606.76 366.22,605.64 363.50,604.42 360.82,603.10 358.18,601.69 355.59,600.18 353.05,598.57 350.57,596.87 348.15,595.09 345.79,593.21 343.49,591.26 341.25,589.21 339.09,587.09 336.99,584.89 334.97,582.62 333.03,580.27 331.16,577.86 329.37,575.37 327.67,572.83 326.05,570.22 324.52,567.56 323.08,564.84 321.72,562.07 320.46,559.26 319.29,556.40 318.22,553.50 317.24,550.56 316.35,547.59 315.57,544.59 314.88,541.56 314.29,538.51 313.80,535.44 313.41,532.35 313.13,529.26 312.94,526.15 312.86,523.04 312.86,520.16 312.94,517.05 313.13,513.94 313.41,510.85 313.80,507.76 314.29,504.69 314.88,501.64 315.57,498.61 316.35,495.61 317.24,492.64 318.22,489.70 319.29,486.80 320.46,483.94 321.72,481.13 323.08,478.36 324.52,475.64 326.05,472.98 327.67,470.37 329.37,467.83 331.16,465.34 333.03,462.93 334.97,460.58 336.99,458.31 339.09,456.11 341.25,453.99 343.49,451.94 345.79,449.99 348.15,448.11 350.57,446.33 353.05,444.63 355.59,443.02 358.18,441.51 360.82,440.10 363.50,438.78 366.22,437.56 368.99,436.44 371.79,435.43 374.62,434.52 377.48,433.71 380.36,433.01 383.27,432.41 386.19,431.92 389.13,431.54 392.08,431.27 395.04,431.10" fill="none" stroke="#1a1a1a" stroke-width="1.45"/>
<polygon points="398.02,441.35 401.01,441.35 404.02,441.35 407.02,441.35 410.03,441.35 413.04,441.35 416.05,441.35 419.06,441.35 422.06,441.35 425.07,441.35 428.08,441.35 431.09,441.35 434.10,441.35 437.11,441.35 440.11,441.35 443.12,441.35 446.13,441.35 449.14,441.35 452.15,441.35 455.15,441.35 458.16,441.35 461.17,441.35 464.18,441.35 467.19,441.35 470.19,441.35 473.20,441.35 476.21,441.35 479.22,441.35 482.23,441.35 485.24,441.35 488.24,441.35 491.25,441.35 494.26,441.35 497.27,441.35 500.28,441.35 503.28,441.35 506.29,441.35 509.28,441.35 511.88,441.40 514.46,441.54 517.03,441.78 519.60,442.11 522.15,442.54 524.69,443.06 527.20,443.67 529.70,444.37 532.18,445.17 534.62,446.06 537.04,447.04 539.43,448.10 541.78,449.26 544.09,450.50 546.36,451.83 548.58,453.23 550.76,454.72 552.90,456.29 554.98,457.94 557.00,459.67 558.97,461.47 560.88,463.34 562.73,465.28 564.51,467.29 566.23,469.36 567.88,471.50 569.46,473.70 570.97,475.95 572.41,478.26 573.77,480.63 575.05,483.04 576.25,485.50 577.37,488.00 578.41,490.54 579.37,493.12 580.24,495.74 581.03,498.38 581.73,501.06 582.34,503.75 582.87,506.47 583.30,509.21 583.65,511.96 583.90,514.73 584.07,517.50 584.14,520.27 584.14,522.93 584.07,525.70 583.90,528.47 583.65,531.24 583.30,533.99 582.87,536.73 582.34,539.45 581.73,542.14 581.03,544.82 580.24,547.46 579.37,550.08 578.41,552.66 577.37,555.20 576.25,557.70 575.05,560.16 573.77,562.57 572.41,564.94 570.97,567.25 569.46,569.50 567.88,571.70 566.23,573.84 564.51,575.91 562.73,577.92 560.88,579.86 558.97,581.73 557.00,583.53 554.98,585.26 552.90,586.91 550.76,588.48 548.58,589.97 546.36,591.37 544.09,592.70 541.78,593.94 539.43,595.10 537.04,596.16 534.62,597.14 532.18,598.03 529.70,598.83 527.20,599.53 524.69,600.14 522.15,600.66 519.60,601.09 517.03,601.42 514.46,601.66 511.88,601.80 509.28,601.85 506.29,601.85 503.28,601.85 500.28,601.85 497.27,601.85 494.26,601.85 491.25,601.85 488.24,601.85 485.24,601.85 482.23,601.85 479.22,601.85 476.21,601.85 473.20,601.85 470.19,601.85 467.19,601.85 464.18,601.85 461.17,601.85 458.16,601.85 455.15,601.85 452.15,601.85 449.14,601.85 446.13,601.85 443.12,601.85 440.11,601.85 437.11,601.85 434.10,601.85 431.09,601.85 428.08,601.85 425.07,601.85 422.06,601.85 419.06,601.85 416.05,601.85 413.04,601.85 410.03,601.85 407.02,601.85 404.02,601.85 401.01,601.85 398.02,601.85 395.42,601.80 392.84,601.66 390.27,601.42 387.70,601.09 385.15,600.66 382.61,600.14 380.10,599.53 377.60,598.83 375.12,598.03 372.68,597.14 370.26,596.16 367.87,595.10 365.52,593.94 363.21,592.70 360.94,591.37 358.72,589.97 356.54,588.48 354.40,586.91 352.32,585.26 350.30,583.53 348.33,581.73 346.42,579.86 344.57,577.92 342.79,575.91 341.07,573.84 339.42,571.70 337.84,569.50 336.33,567.25 334.89,564.94 333.53,562.57 332.25,560.16 331.05,557.70 329.93,555.20 328.89,552.66 327.93,550.08 327.06,547.46 326.27,544.82 325.57,542.14 324.96,539.45 324.43,536.73 324.00,533.99 323.65,531.24 323.40,528.47 323.23,525.70 323.16,522.93 323.16,520.27 323.23,517.50 323.40,514.73 323.65,511.96 324.00,509.21 324.43,506.47 324.96,503.75 325.57,501.06 326.27,498.38 327.06,495.74 327.93,493.12 328.89,490.54 329.93,488.00 331.05,485.50 332.25,483.04 333.53,480.63 334.89,478.26 336.33,475.95 337.84,473.70 339.42,471.50 341.07,469.36 342.79,467.29 344.57,465.28 346.42,463.34 348.33,461.47 350.30,459.67 352.32,457.94 354.40,456.29 356.54,454.72 358.72,453.23 360.94,451.83 363.21,450.50 365.52,449.26 367.87,448.10 370.26,447.04 372.68,446.06 375.12,445.17 377.60,444.37 380.10,443.67 382.61,443.06 385.15,442.54 387.70,442.11 390.27,441.78 392.84,441.54 395.42,441.40" fill="none" stroke="#1a1a1a" stroke-width="1.45"/>
<g fill="#565656" stroke="#383838" stroke-width="0.5"><rect x="406.5" y="606" width="5.5" height="36"/><rect x="494" y="606" width="5" height="36"/><rect x="406.5" y="634.5" width="13" height="11"/><rect x="487" y="602" width="13" height="10.5"/><rect x="487" y="635" width="13" height="10"/><rect x="406.5" y="601" width="13" height="10.5"/></g>
<g fill="#717171" stroke="#3a3a3a" stroke-width="0.6"><rect x="-1.70" y="-8.00" width="3.4" height="16.0" transform="translate(417.99,607.20) rotate(6.1)"/><rect x="-1.70" y="-8.00" width="3.4" height="16.0" transform="translate(426.30,608.95) rotate(17.9)"/><rect x="-1.70" y="-8.00" width="3.4" height="16.0" transform="translate(434.13,612.22) rotate(27.1)"/><rect x="-1.70" y="-8.00" width="3.4" height="16.0" transform="translate(441.46,616.52) rotate(33.1)"/><rect x="-1.70" y="-8.00" width="3.4" height="16.0" transform="translate(448.43,621.38) rotate(36.1)"/><rect x="-1.70" y="-8.00" width="3.4" height="16.0" transform="translate(455.28,626.41) rotate(36.1)"/><rect x="-1.70" y="-8.00" width="3.4" height="16.0" transform="translate(462.24,631.29) rotate(33.3)"/><rect x="-1.70" y="-8.00" width="3.4" height="16.0" transform="translate(469.55,635.62) rotate(27.4)"/><rect x="-1.70" y="-8.00" width="3.4" height="16.0" transform="translate(477.37,638.94) rotate(17.9)"/><rect x="-1.70" y="-8.00" width="3.4" height="16.0" transform="translate(485.65,640.76) rotate(6.1)"/></g>
<polyline points="414.03,601.85 415.52,601.88 417.01,601.95 418.49,602.08 419.94,602.25 421.38,602.47 422.79,602.73 424.19,603.03 425.57,603.37 426.92,603.75 428.25,604.17 429.57,604.62 430.87,605.11 432.14,605.62 433.40,606.16 434.64,606.73 435.86,607.33 437.07,607.94 438.26,608.58 439.44,609.24 440.60,609.91 441.75,610.60 442.88,611.31 444.00,612.03 445.12,612.76 446.22,613.50 447.31,614.25 448.39,615.00 449.46,615.76 450.52,616.53 451.58,617.30 452.63,618.07 453.68,618.84 454.72,619.60 455.75,620.37 456.78,621.13 457.81,621.88 458.83,622.63 459.85,623.37 460.87,624.10 461.88,624.81 462.90,625.52 463.91,626.21 464.93,626.89 465.94,627.55 466.96,628.19 467.97,628.82 468.99,629.42 470.00,630.01 471.02,630.57 472.05,631.11 473.07,631.62 474.10,632.11 475.13,632.58 476.17,633.01 477.21,633.42 478.25,633.80 479.31,634.15 480.37,634.47 481.43,634.76 482.51,635.02 483.60,635.25 484.70,635.44 485.81,635.59 486.93,635.71 488.07,635.80 489.22,635.84 490.03,635.85" fill="none" stroke="#1a1a1a" stroke-width="1.45"/>
<polyline points="413.97,612.15 415.17,612.17 416.31,612.23 417.45,612.32 418.57,612.46 419.67,612.62 420.77,612.83 421.85,613.06 422.92,613.33 423.99,613.63 425.04,613.96 426.10,614.32 427.14,614.71 428.18,615.13 429.21,615.57 430.24,616.05 431.27,616.54 432.30,617.07 433.32,617.61 434.34,618.18 435.35,618.78 436.37,619.39 437.38,620.02 438.40,620.67 439.41,621.33 440.42,622.02 441.44,622.71 442.45,623.42 443.47,624.14 444.49,624.88 445.51,625.62 446.54,626.37 447.56,627.13 448.59,627.89 449.63,628.65 450.67,629.42 451.72,630.19 452.77,630.96 453.83,631.73 454.90,632.49 455.97,633.25 457.06,634.00 458.15,634.75 459.25,635.49 460.37,636.21 461.49,636.93 462.63,637.63 463.79,638.31 464.95,638.98 466.13,639.63 467.33,640.27 468.54,640.87 469.77,641.46 471.02,642.02 472.28,642.55 473.56,643.06 474.87,643.53 476.19,643.97 477.53,644.38 478.89,644.74 480.27,645.07 481.67,645.36 483.10,645.61 484.54,645.81 486.00,645.97 487.49,646.08 488.99,646.14 489.97,646.15" fill="none" stroke="#1a1a1a" stroke-width="1.45"/>
<g fill="#717171" stroke="#3a3a3a" stroke-width="0.6"><rect x="-1.70" y="-8.00" width="3.4" height="16.0" transform="translate(417.99,640.80) rotate(-6.1)"/><rect x="-1.70" y="-8.00" width="3.4" height="16.0" transform="translate(426.30,639.05) rotate(-17.9)"/><rect x="-1.70" y="-8.00" width="3.4" height="16.0" transform="translate(434.13,635.78) rotate(-27.1)"/><rect x="-1.70" y="-8.00" width="3.4" height="16.0" transform="translate(441.46,631.48) rotate(-33.1)"/><rect x="-1.70" y="-8.00" width="3.4" height="16.0" transform="translate(448.43,626.62) rotate(-36.1)"/><rect x="-1.70" y="-8.00" width="3.4" height="16.0" transform="translate(455.28,621.59) rotate(-36.1)"/><rect x="-1.70" y="-8.00" width="3.4" height="16.0" transform="translate(462.24,616.71) rotate(-33.3)"/><rect x="-1.70" y="-8.00" width="3.4" height="16.0" transform="translate(469.55,612.38) rotate(-27.4)"/><rect x="-1.70" y="-8.00" width="3.4" height="16.0" transform="translate(477.37,609.06) rotate(-17.9)"/><rect x="-1.70" y="-8.00" width="3.4" height="16.0" transform="translate(485.65,607.24) rotate(-6.1)"/></g>
<polyline points="413.97,635.85 415.17,635.83 416.31,635.77 417.45,635.68 418.57,635.54 419.67,635.38 420.77,635.17 421.85,634.94 422.92,634.67 423.99,634.37 425.04,634.04 426.10,633.68 427.14,633.29 428.18,632.87 429.21,632.43 430.24,631.95 431.27,631.46 432.30,630.93 433.32,630.39 434.34,629.82 435.35,629.22 436.37,628.61 437.38,627.98 438.40,627.33 439.41,626.67 440.42,625.98 441.44,625.29 442.45,624.58 443.47,623.86 444.49,623.12 445.51,622.38 446.54,621.63 447.56,620.87 448.59,620.11 449.63,619.35 450.67,618.58 451.72,617.81 452.77,617.04 453.83,616.27 454.90,615.51 455.97,614.75 457.06,614.00 458.15,613.25 459.25,612.51 460.37,611.79 461.49,611.07 462.63,610.37 463.79,609.69 464.95,609.02 466.13,608.37 467.33,607.73 468.54,607.13 469.77,606.54 471.02,605.98 472.28,605.45 473.56,604.94 474.87,604.47 476.19,604.03 477.53,603.62 478.89,603.26 480.27,602.93 481.67,602.64 483.10,602.39 484.54,602.19 486.00,602.03 487.49,601.92 488.99,601.86 489.97,601.85" fill="none" stroke="#1a1a1a" stroke-width="1.45"/>
<polyline points="414.03,646.15 415.52,646.12 417.01,646.05 418.49,645.92 419.94,645.75 421.38,645.53 422.79,645.27 424.19,644.97 425.57,644.63 426.92,644.25 428.25,643.83 429.57,643.38 430.87,642.89 432.14,642.38 433.40,641.84 434.64,641.27 435.86,640.67 437.07,640.06 438.26,639.42 439.44,638.76 440.60,638.09 441.75,637.40 442.88,636.69 444.00,635.97 445.12,635.24 446.22,634.50 447.31,633.75 448.39,633.00 449.46,632.24 450.52,631.47 451.58,630.70 452.63,629.93 453.68,629.16 454.72,628.40 455.75,627.63 456.78,626.87 457.81,626.12 458.83,625.37 459.85,624.63 460.87,623.90 461.88,623.19 462.90,622.48 463.91,621.79 464.93,621.11 465.94,620.45 466.96,619.81 467.97,619.18 468.99,618.58 470.00,617.99 471.02,617.43 472.05,616.89 473.07,616.38 474.10,615.89 475.13,615.42 476.17,614.99 477.21,614.58 478.25,614.20 479.31,613.85 480.37,613.53 481.43,613.24 482.51,612.98 483.60,612.75 484.70,612.56 485.81,612.41 486.93,612.29 488.07,612.20 489.22,612.16 490.03,612.15" fill="none" stroke="#1a1a1a" stroke-width="1.45"/>
<path d="M392.5,597.5 Q393,595.8 396,596 L424,599.8 L424,612 L395,607.8 Q392,606.5 392.5,597.5z" fill="#eeeeee" stroke="#9a9a9a" stroke-width="0.7"/><path d="M394,603.2 L423.5,606.8" stroke="#1e1e1e" stroke-width="2.2"/><path d="M404,598 L418,599.6" stroke="#888" stroke-width="1"/><g transform="translate(443.5,616.5) rotate(35)"><path d="M-24,-6.8 L16,-6.8 Q24,-5 25,0 Q24,5 16,6.8 L-24,6.8z" fill="#f0f0f0" stroke="#9a9a9a" stroke-width="0.7"/><path d="M-23,3.6 L20,3.6" stroke="#1e1e1e" stroke-width="1.8"/><path d="M10,-4.5 L18.5,-4.5 Q21.5,-2 21.5,0.8 L10,0.8z" fill="#262626"/><path d="M-16,-2.5 h3 M-9,-2.5 h3 M-2,-2.5 h3" stroke="#444" stroke-width="1.6"/></g></svg>
</body></html>
